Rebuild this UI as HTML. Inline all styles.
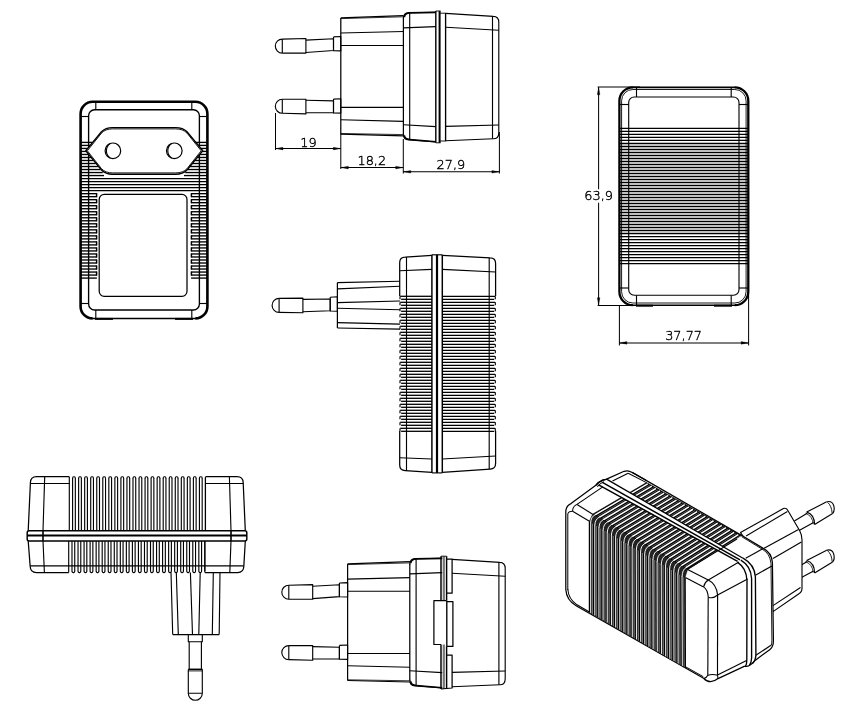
<!DOCTYPE html>
<html lang="en">
<head>
<meta charset="utf-8">
<title>Power adapter drawing</title>
<style>
html,body{margin:0;padding:0;background:#fff;}
body{width:858px;height:720px;overflow:hidden;font-family:"DejaVu Sans","Liberation Sans",sans-serif;}
svg{display:block;will-change:transform;}
.dim{font-family:"DejaVu Sans","Liberation Sans",sans-serif;font-weight:200;fill:#000;stroke:#000;stroke-width:0.4px;}
</style>
</head>
<body>
<svg width="858" height="720" viewBox="0 0 858 720" stroke-linecap="butt" stroke-linejoin="round">
<rect x="0" y="0" width="858" height="720" fill="#fff"/>
<g id="v1">
<line x1="80.6" y1="142.4" x2="92.33" y2="142.4" stroke="#000" stroke-width="1.35" />
<line x1="195.67" y1="142.4" x2="207.4" y2="142.4" stroke="#000" stroke-width="1.35" />
<line x1="80.6" y1="145.41" x2="89.99" y2="145.41" stroke="#000" stroke-width="1.35" />
<line x1="198.01" y1="145.41" x2="207.4" y2="145.41" stroke="#000" stroke-width="1.35" />
<line x1="80.6" y1="148.43" x2="87.64" y2="148.43" stroke="#000" stroke-width="1.35" />
<line x1="200.36" y1="148.43" x2="207.4" y2="148.43" stroke="#000" stroke-width="1.35" />
<line x1="80.6" y1="151.44" x2="86.3" y2="151.44" stroke="#000" stroke-width="1.35" />
<line x1="201.7" y1="151.44" x2="207.4" y2="151.44" stroke="#000" stroke-width="1.35" />
<line x1="80.6" y1="154.46" x2="88.65" y2="154.46" stroke="#000" stroke-width="1.35" />
<line x1="199.35" y1="154.46" x2="207.4" y2="154.46" stroke="#000" stroke-width="1.35" />
<line x1="80.6" y1="157.47" x2="90.99" y2="157.47" stroke="#000" stroke-width="1.35" />
<line x1="197.01" y1="157.47" x2="207.4" y2="157.47" stroke="#000" stroke-width="1.35" />
<line x1="80.6" y1="160.49" x2="93.34" y2="160.49" stroke="#000" stroke-width="1.35" />
<line x1="194.66" y1="160.49" x2="207.4" y2="160.49" stroke="#000" stroke-width="1.35" />
<line x1="80.6" y1="163.5" x2="95.68" y2="163.5" stroke="#000" stroke-width="1.35" />
<line x1="192.32" y1="163.5" x2="207.4" y2="163.5" stroke="#000" stroke-width="1.35" />
<line x1="80.6" y1="166.52" x2="98.03" y2="166.52" stroke="#000" stroke-width="1.35" />
<line x1="189.97" y1="166.52" x2="207.4" y2="166.52" stroke="#000" stroke-width="1.35" />
<line x1="80.6" y1="169.53" x2="100.37" y2="169.53" stroke="#000" stroke-width="1.35" />
<line x1="187.63" y1="169.53" x2="207.4" y2="169.53" stroke="#000" stroke-width="1.35" />
<line x1="80.6" y1="172.55" x2="102.72" y2="172.55" stroke="#000" stroke-width="1.35" />
<line x1="185.28" y1="172.55" x2="207.4" y2="172.55" stroke="#000" stroke-width="1.35" />
<line x1="80.6" y1="175.56" x2="104" y2="175.56" stroke="#000" stroke-width="1.35" />
<line x1="184" y1="175.56" x2="207.4" y2="175.56" stroke="#000" stroke-width="1.35" />
<line x1="80.6" y1="178.58" x2="207.4" y2="178.58" stroke="#000" stroke-width="1.35" />
<line x1="80.6" y1="181.59" x2="207.4" y2="181.59" stroke="#000" stroke-width="1.35" />
<line x1="80.6" y1="184.61" x2="207.4" y2="184.61" stroke="#000" stroke-width="1.35" />
<line x1="80.6" y1="187.62" x2="207.4" y2="187.62" stroke="#000" stroke-width="1.35" />
<line x1="80.6" y1="190.64" x2="207.4" y2="190.64" stroke="#000" stroke-width="1.35" />
<line x1="80.6" y1="193.66" x2="96.9" y2="193.66" stroke="#000" stroke-width="1.35" />
<line x1="191.1" y1="193.66" x2="207.4" y2="193.66" stroke="#000" stroke-width="1.35" />
<line x1="80.6" y1="196.67" x2="96.9" y2="196.67" stroke="#000" stroke-width="1.35" />
<line x1="191.1" y1="196.67" x2="207.4" y2="196.67" stroke="#000" stroke-width="1.35" />
<line x1="80.6" y1="199.69" x2="96.9" y2="199.69" stroke="#000" stroke-width="1.35" />
<line x1="191.1" y1="199.69" x2="207.4" y2="199.69" stroke="#000" stroke-width="1.35" />
<line x1="80.6" y1="202.7" x2="96.9" y2="202.7" stroke="#000" stroke-width="1.35" />
<line x1="191.1" y1="202.7" x2="207.4" y2="202.7" stroke="#000" stroke-width="1.35" />
<line x1="80.6" y1="205.72" x2="96.9" y2="205.72" stroke="#000" stroke-width="1.35" />
<line x1="191.1" y1="205.72" x2="207.4" y2="205.72" stroke="#000" stroke-width="1.35" />
<line x1="80.6" y1="208.73" x2="96.9" y2="208.73" stroke="#000" stroke-width="1.35" />
<line x1="191.1" y1="208.73" x2="207.4" y2="208.73" stroke="#000" stroke-width="1.35" />
<line x1="80.6" y1="211.75" x2="96.9" y2="211.75" stroke="#000" stroke-width="1.35" />
<line x1="191.1" y1="211.75" x2="207.4" y2="211.75" stroke="#000" stroke-width="1.35" />
<line x1="80.6" y1="214.76" x2="96.9" y2="214.76" stroke="#000" stroke-width="1.35" />
<line x1="191.1" y1="214.76" x2="207.4" y2="214.76" stroke="#000" stroke-width="1.35" />
<line x1="80.6" y1="217.78" x2="96.9" y2="217.78" stroke="#000" stroke-width="1.35" />
<line x1="191.1" y1="217.78" x2="207.4" y2="217.78" stroke="#000" stroke-width="1.35" />
<line x1="80.6" y1="220.79" x2="96.9" y2="220.79" stroke="#000" stroke-width="1.35" />
<line x1="191.1" y1="220.79" x2="207.4" y2="220.79" stroke="#000" stroke-width="1.35" />
<line x1="80.6" y1="223.81" x2="96.9" y2="223.81" stroke="#000" stroke-width="1.35" />
<line x1="191.1" y1="223.81" x2="207.4" y2="223.81" stroke="#000" stroke-width="1.35" />
<line x1="80.6" y1="226.82" x2="96.9" y2="226.82" stroke="#000" stroke-width="1.35" />
<line x1="191.1" y1="226.82" x2="207.4" y2="226.82" stroke="#000" stroke-width="1.35" />
<line x1="80.6" y1="229.84" x2="96.9" y2="229.84" stroke="#000" stroke-width="1.35" />
<line x1="191.1" y1="229.84" x2="207.4" y2="229.84" stroke="#000" stroke-width="1.35" />
<line x1="80.6" y1="232.85" x2="96.9" y2="232.85" stroke="#000" stroke-width="1.35" />
<line x1="191.1" y1="232.85" x2="207.4" y2="232.85" stroke="#000" stroke-width="1.35" />
<line x1="80.6" y1="235.87" x2="96.9" y2="235.87" stroke="#000" stroke-width="1.35" />
<line x1="191.1" y1="235.87" x2="207.4" y2="235.87" stroke="#000" stroke-width="1.35" />
<line x1="80.6" y1="238.88" x2="96.9" y2="238.88" stroke="#000" stroke-width="1.35" />
<line x1="191.1" y1="238.88" x2="207.4" y2="238.88" stroke="#000" stroke-width="1.35" />
<line x1="80.6" y1="241.9" x2="96.9" y2="241.9" stroke="#000" stroke-width="1.35" />
<line x1="191.1" y1="241.9" x2="207.4" y2="241.9" stroke="#000" stroke-width="1.35" />
<line x1="80.6" y1="244.91" x2="96.9" y2="244.91" stroke="#000" stroke-width="1.35" />
<line x1="191.1" y1="244.91" x2="207.4" y2="244.91" stroke="#000" stroke-width="1.35" />
<line x1="80.6" y1="247.93" x2="96.9" y2="247.93" stroke="#000" stroke-width="1.35" />
<line x1="191.1" y1="247.93" x2="207.4" y2="247.93" stroke="#000" stroke-width="1.35" />
<line x1="80.6" y1="250.94" x2="96.9" y2="250.94" stroke="#000" stroke-width="1.35" />
<line x1="191.1" y1="250.94" x2="207.4" y2="250.94" stroke="#000" stroke-width="1.35" />
<line x1="80.6" y1="253.96" x2="96.9" y2="253.96" stroke="#000" stroke-width="1.35" />
<line x1="191.1" y1="253.96" x2="207.4" y2="253.96" stroke="#000" stroke-width="1.35" />
<line x1="80.6" y1="256.97" x2="96.9" y2="256.97" stroke="#000" stroke-width="1.35" />
<line x1="191.1" y1="256.97" x2="207.4" y2="256.97" stroke="#000" stroke-width="1.35" />
<line x1="80.6" y1="259.99" x2="96.9" y2="259.99" stroke="#000" stroke-width="1.35" />
<line x1="191.1" y1="259.99" x2="207.4" y2="259.99" stroke="#000" stroke-width="1.35" />
<line x1="80.6" y1="263" x2="96.9" y2="263" stroke="#000" stroke-width="1.35" />
<line x1="191.1" y1="263" x2="207.4" y2="263" stroke="#000" stroke-width="1.35" />
<line x1="80.6" y1="266.01" x2="96.9" y2="266.01" stroke="#000" stroke-width="1.35" />
<line x1="191.1" y1="266.01" x2="207.4" y2="266.01" stroke="#000" stroke-width="1.35" />
<line x1="80.6" y1="269.03" x2="96.9" y2="269.03" stroke="#000" stroke-width="1.35" />
<line x1="191.1" y1="269.03" x2="207.4" y2="269.03" stroke="#000" stroke-width="1.35" />
<line x1="80.6" y1="272.05" x2="96.9" y2="272.05" stroke="#000" stroke-width="1.35" />
<line x1="191.1" y1="272.05" x2="207.4" y2="272.05" stroke="#000" stroke-width="1.35" />
<line x1="80.6" y1="275.06" x2="96.9" y2="275.06" stroke="#000" stroke-width="1.35" />
<line x1="191.1" y1="275.06" x2="207.4" y2="275.06" stroke="#000" stroke-width="1.35" />
<line x1="80.6" y1="278.08" x2="96.9" y2="278.08" stroke="#000" stroke-width="1.35" />
<line x1="191.1" y1="278.08" x2="207.4" y2="278.08" stroke="#000" stroke-width="1.35" />
<line x1="96.6" y1="193.16" x2="96.6" y2="197.17" stroke="#000" stroke-width="1.469" />
<line x1="191.4" y1="193.16" x2="191.4" y2="197.17" stroke="#000" stroke-width="1.469" />
<line x1="96.6" y1="199.19" x2="96.6" y2="203.2" stroke="#000" stroke-width="1.469" />
<line x1="191.4" y1="199.19" x2="191.4" y2="203.2" stroke="#000" stroke-width="1.469" />
<line x1="96.6" y1="205.22" x2="96.6" y2="209.23" stroke="#000" stroke-width="1.469" />
<line x1="191.4" y1="205.22" x2="191.4" y2="209.23" stroke="#000" stroke-width="1.469" />
<line x1="96.6" y1="211.25" x2="96.6" y2="215.26" stroke="#000" stroke-width="1.469" />
<line x1="191.4" y1="211.25" x2="191.4" y2="215.26" stroke="#000" stroke-width="1.469" />
<line x1="96.6" y1="217.28" x2="96.6" y2="221.29" stroke="#000" stroke-width="1.469" />
<line x1="191.4" y1="217.28" x2="191.4" y2="221.29" stroke="#000" stroke-width="1.469" />
<line x1="96.6" y1="223.31" x2="96.6" y2="227.32" stroke="#000" stroke-width="1.469" />
<line x1="191.4" y1="223.31" x2="191.4" y2="227.32" stroke="#000" stroke-width="1.469" />
<line x1="96.6" y1="229.34" x2="96.6" y2="233.35" stroke="#000" stroke-width="1.469" />
<line x1="191.4" y1="229.34" x2="191.4" y2="233.35" stroke="#000" stroke-width="1.469" />
<line x1="96.6" y1="235.37" x2="96.6" y2="239.38" stroke="#000" stroke-width="1.469" />
<line x1="191.4" y1="235.37" x2="191.4" y2="239.38" stroke="#000" stroke-width="1.469" />
<line x1="96.6" y1="241.4" x2="96.6" y2="245.41" stroke="#000" stroke-width="1.469" />
<line x1="191.4" y1="241.4" x2="191.4" y2="245.41" stroke="#000" stroke-width="1.469" />
<line x1="96.6" y1="247.43" x2="96.6" y2="251.44" stroke="#000" stroke-width="1.469" />
<line x1="191.4" y1="247.43" x2="191.4" y2="251.44" stroke="#000" stroke-width="1.469" />
<line x1="96.6" y1="253.46" x2="96.6" y2="257.47" stroke="#000" stroke-width="1.469" />
<line x1="191.4" y1="253.46" x2="191.4" y2="257.47" stroke="#000" stroke-width="1.469" />
<line x1="96.6" y1="259.49" x2="96.6" y2="263.5" stroke="#000" stroke-width="1.469" />
<line x1="191.4" y1="259.49" x2="191.4" y2="263.5" stroke="#000" stroke-width="1.469" />
<line x1="96.6" y1="265.51" x2="96.6" y2="269.53" stroke="#000" stroke-width="1.469" />
<line x1="191.4" y1="265.51" x2="191.4" y2="269.53" stroke="#000" stroke-width="1.469" />
<line x1="96.6" y1="271.55" x2="96.6" y2="275.56" stroke="#000" stroke-width="1.469" />
<line x1="191.4" y1="271.55" x2="191.4" y2="275.56" stroke="#000" stroke-width="1.469" />
<path d="M92.6 318.4 A12 12 0 0 1 80.6 306.4 L80.6 113.8 A12 12 0 0 1 92.6 101.8 L195.4 101.8 A12 12 0 0 1 207.4 113.8 L207.4 306.4 A12 12 0 0 1 195.4 318.4" stroke="#000" stroke-width="2.6" fill="none" />
<line x1="92.1" y1="318.4" x2="195.9" y2="318.4" stroke="#000" stroke-width="1.5" />
<rect x="88.6" y="109.8" width="110.8" height="200.2" rx="6" ry="6" stroke="#000" stroke-width="1.356" fill="none"/>
<line x1="95.8" y1="101.8" x2="95.8" y2="109.8" stroke="#000" stroke-width="1.13" />
<line x1="95.8" y1="310" x2="95.8" y2="318.4" stroke="#000" stroke-width="1.13" />
<line x1="191.8" y1="101.8" x2="191.8" y2="109.8" stroke="#000" stroke-width="1.13" />
<line x1="191.8" y1="310" x2="191.8" y2="318.4" stroke="#000" stroke-width="1.13" />
<line x1="80.6" y1="116.5" x2="88.6" y2="116.5" stroke="#000" stroke-width="1.13" />
<line x1="199.4" y1="116.5" x2="207.4" y2="116.5" stroke="#000" stroke-width="1.13" />
<line x1="80.6" y1="303.5" x2="88.6" y2="303.5" stroke="#000" stroke-width="1.13" />
<line x1="199.4" y1="303.5" x2="207.4" y2="303.5" stroke="#000" stroke-width="1.13" />
<line x1="95" y1="318.9" x2="113" y2="318.9" stroke="#000" stroke-width="2.0" />
<line x1="175" y1="318.9" x2="193" y2="318.9" stroke="#000" stroke-width="2.0" />
<rect x="99.2" y="194.4" width="87.8" height="101.9" rx="5" ry="5" stroke="#000" stroke-width="1.243" fill="#fff"/>
<path d="M85.8 150.8 L101.5 131.8 Q105.5 127.6 112.5 127.6 L175.5 127.6 Q183 127.6 187 131.8 L202.7 150.8 L187 170 Q183 174.2 175.5 174.2 L112.5 174.2 Q105.5 174.2 101.5 170 Z" stroke="#000" stroke-width="1.356" fill="#fff" />
<path d="M87.36 150.8 L101.5 133.1 Q105.5 128.9 112.5 128.9 L175.5 128.9 Q183 128.9 187 133.1 L201.14 150.8 L187 168.7 Q183 172.9 175.5 172.9 L112.5 172.9 Q105.5 172.9 101.5 168.7 Z" stroke="#000" stroke-width="0.904" fill="none" />
<circle cx="112.9" cy="150.8" r="7.8" fill="#fff" stroke="#000" stroke-width="1.2"/>
<path d="M110.3 143.6 A8.6 8.6 0 0 0 110.3 158" fill="none" stroke="#000" stroke-width="1.1"/>
<circle cx="174.3" cy="150.8" r="7.8" fill="#fff" stroke="#000" stroke-width="1.2"/>
<path d="M171.7 143.6 A8.6 8.6 0 0 0 171.7 158" fill="none" stroke="#000" stroke-width="1.1"/>
</g>
<g id="v3">
<line x1="619.4" y1="128.4" x2="748.3" y2="128.4" stroke="#000" stroke-width="1.4" />
<line x1="619.4" y1="131.41" x2="748.3" y2="131.41" stroke="#000" stroke-width="1.4" />
<line x1="619.4" y1="134.41" x2="748.3" y2="134.41" stroke="#000" stroke-width="1.4" />
<line x1="619.4" y1="137.42" x2="748.3" y2="137.42" stroke="#000" stroke-width="1.4" />
<line x1="619.4" y1="140.42" x2="748.3" y2="140.42" stroke="#000" stroke-width="1.4" />
<line x1="619.4" y1="143.43" x2="748.3" y2="143.43" stroke="#000" stroke-width="1.4" />
<line x1="619.4" y1="146.43" x2="748.3" y2="146.43" stroke="#000" stroke-width="1.4" />
<line x1="619.4" y1="149.44" x2="748.3" y2="149.44" stroke="#000" stroke-width="1.4" />
<line x1="619.4" y1="152.44" x2="748.3" y2="152.44" stroke="#000" stroke-width="1.4" />
<line x1="619.4" y1="155.44" x2="748.3" y2="155.44" stroke="#000" stroke-width="1.4" />
<line x1="619.4" y1="158.45" x2="748.3" y2="158.45" stroke="#000" stroke-width="1.4" />
<line x1="619.4" y1="161.46" x2="748.3" y2="161.46" stroke="#000" stroke-width="1.4" />
<line x1="619.4" y1="164.46" x2="748.3" y2="164.46" stroke="#000" stroke-width="1.4" />
<line x1="619.4" y1="167.47" x2="748.3" y2="167.47" stroke="#000" stroke-width="1.4" />
<line x1="619.4" y1="170.47" x2="748.3" y2="170.47" stroke="#000" stroke-width="1.4" />
<line x1="619.4" y1="173.47" x2="748.3" y2="173.47" stroke="#000" stroke-width="1.4" />
<line x1="619.4" y1="176.48" x2="748.3" y2="176.48" stroke="#000" stroke-width="1.4" />
<line x1="619.4" y1="179.49" x2="748.3" y2="179.49" stroke="#000" stroke-width="1.4" />
<line x1="619.4" y1="182.49" x2="748.3" y2="182.49" stroke="#000" stroke-width="1.4" />
<line x1="619.4" y1="185.5" x2="748.3" y2="185.5" stroke="#000" stroke-width="1.4" />
<line x1="619.4" y1="188.5" x2="748.3" y2="188.5" stroke="#000" stroke-width="1.4" />
<line x1="619.4" y1="191.5" x2="748.3" y2="191.5" stroke="#000" stroke-width="1.4" />
<line x1="619.4" y1="194.51" x2="748.3" y2="194.51" stroke="#000" stroke-width="1.4" />
<line x1="619.4" y1="197.51" x2="748.3" y2="197.51" stroke="#000" stroke-width="1.4" />
<line x1="619.4" y1="200.52" x2="748.3" y2="200.52" stroke="#000" stroke-width="1.4" />
<line x1="619.4" y1="203.53" x2="748.3" y2="203.53" stroke="#000" stroke-width="1.4" />
<line x1="619.4" y1="206.53" x2="748.3" y2="206.53" stroke="#000" stroke-width="1.4" />
<line x1="619.4" y1="209.53" x2="748.3" y2="209.53" stroke="#000" stroke-width="1.4" />
<line x1="619.4" y1="212.54" x2="748.3" y2="212.54" stroke="#000" stroke-width="1.4" />
<line x1="619.4" y1="215.55" x2="748.3" y2="215.55" stroke="#000" stroke-width="1.4" />
<line x1="619.4" y1="218.55" x2="748.3" y2="218.55" stroke="#000" stroke-width="1.4" />
<line x1="619.4" y1="221.56" x2="748.3" y2="221.56" stroke="#000" stroke-width="1.4" />
<line x1="619.4" y1="224.56" x2="748.3" y2="224.56" stroke="#000" stroke-width="1.4" />
<line x1="619.4" y1="227.56" x2="748.3" y2="227.56" stroke="#000" stroke-width="1.4" />
<line x1="619.4" y1="230.57" x2="748.3" y2="230.57" stroke="#000" stroke-width="1.4" />
<line x1="619.4" y1="233.57" x2="748.3" y2="233.57" stroke="#000" stroke-width="1.4" />
<line x1="619.4" y1="236.58" x2="748.3" y2="236.58" stroke="#000" stroke-width="1.4" />
<line x1="619.4" y1="239.59" x2="748.3" y2="239.59" stroke="#000" stroke-width="1.4" />
<line x1="619.4" y1="242.59" x2="748.3" y2="242.59" stroke="#000" stroke-width="1.4" />
<line x1="619.4" y1="245.59" x2="748.3" y2="245.59" stroke="#000" stroke-width="1.4" />
<line x1="619.4" y1="248.6" x2="748.3" y2="248.6" stroke="#000" stroke-width="1.4" />
<line x1="619.4" y1="251.61" x2="748.3" y2="251.61" stroke="#000" stroke-width="1.4" />
<line x1="619.4" y1="254.61" x2="748.3" y2="254.61" stroke="#000" stroke-width="1.4" />
<line x1="619.4" y1="257.62" x2="748.3" y2="257.62" stroke="#000" stroke-width="1.4" />
<line x1="619.4" y1="260.62" x2="748.3" y2="260.62" stroke="#000" stroke-width="1.4" />
<line x1="619.4" y1="263.62" x2="748.3" y2="263.62" stroke="#000" stroke-width="1.4" />
<path d="M632.9 87.3 A13.5 13.5 0 0 0 619.4 100.8 L619.4 291.7 A13.5 13.5 0 0 0 632.9 305.2" stroke="#000" stroke-width="2.3" fill="none" />
<path d="M734.8 87.3 A13.5 13.5 0 0 1 748.3 100.8 L748.3 291.7 A13.5 13.5 0 0 1 734.8 305.2" stroke="#000" stroke-width="2.3" fill="none" />
<line x1="632.4" y1="87.3" x2="735.3" y2="87.3" stroke="#000" stroke-width="1.8" />
<line x1="632.4" y1="305.2" x2="735.3" y2="305.2" stroke="#000" stroke-width="1.4" />
<rect x="621.6" y="89.5" width="124.5" height="213.5" rx="11.3" ry="11.3" stroke="#000" stroke-width="0.904" fill="none"/>
<rect x="628.7" y="97" width="110.3" height="198.3" rx="5.5" ry="5.5" stroke="#000" stroke-width="1.13" fill="none"/>
<line x1="636.5" y1="87.3" x2="636.5" y2="97" stroke="#000" stroke-width="1.13" />
<line x1="636.5" y1="295.3" x2="636.5" y2="305.2" stroke="#000" stroke-width="1.13" />
<line x1="731.2" y1="87.3" x2="731.2" y2="97" stroke="#000" stroke-width="1.13" />
<line x1="731.2" y1="295.3" x2="731.2" y2="305.2" stroke="#000" stroke-width="1.13" />
<line x1="619.4" y1="104.5" x2="628.7" y2="104.5" stroke="#000" stroke-width="1.13" />
<line x1="739" y1="104.5" x2="748.3" y2="104.5" stroke="#000" stroke-width="1.13" />
<line x1="619.4" y1="288" x2="628.7" y2="288" stroke="#000" stroke-width="1.13" />
<line x1="739" y1="288" x2="748.3" y2="288" stroke="#000" stroke-width="1.13" />
<line x1="636" y1="305.7" x2="653" y2="305.7" stroke="#000" stroke-width="2.0" />
<line x1="714" y1="305.7" x2="732" y2="305.7" stroke="#000" stroke-width="2.0" />
<line x1="597.6" y1="87" x2="640" y2="87" stroke="#000" stroke-width="1.017" />
<line x1="597.6" y1="305.5" x2="652" y2="305.5" stroke="#000" stroke-width="1.017" />
<line x1="598.6" y1="87.3" x2="598.6" y2="189.2" stroke="#000" stroke-width="1.017" />
<line x1="598.6" y1="202.8" x2="598.6" y2="305.2" stroke="#000" stroke-width="1.017" />
<path d="M598.6 87.3 L599.9 94.8 L597.3 94.8 Z" stroke="#000" stroke-width="0.3" fill="#000" />
<path d="M598.6 305.2 L597.3 297.7 L599.9 297.7 Z" stroke="#000" stroke-width="0.3" fill="#000" />
<text x="598.7" y="200.3" text-anchor="middle" font-size="12.9" class="dim">63,9</text>
<line x1="619.4" y1="305.2" x2="619.4" y2="345.5" stroke="#000" stroke-width="1.017" />
<line x1="748.6" y1="295.2" x2="748.6" y2="345.5" stroke="#000" stroke-width="1.017" />
<line x1="619.4" y1="342.9" x2="748.6" y2="342.9" stroke="#000" stroke-width="1.017" />
<path d="M619.4 342.9 L626.9 341.6 L626.9 344.2 Z" stroke="#000" stroke-width="0.3" fill="#000" />
<path d="M748.6 342.9 L741.1 344.2 L741.1 341.6 Z" stroke="#000" stroke-width="0.3" fill="#000" />
<text x="683.6" y="339.7" text-anchor="middle" font-size="12.9" class="dim">37,77</text>
</g>
<g id="v2">
<path d="M282.3 39.1 A7 7 0 0 0 282.3 53.1" stroke="#000" stroke-width="1.13" fill="none" />
<line x1="282.3" y1="39.1" x2="282.3" y2="53.1" stroke="#000" stroke-width="1.13" />
<path d="M282.3 39.1 L305.9 38.5 L305.9 53.1 L282.3 53.1" stroke="#000" stroke-width="1.13" fill="none" />
<path d="M305.9 40.1 L333.5 38.7 L333.5 50.5 L305.9 52.5" stroke="#000" stroke-width="1.13" fill="none" />
<path d="M333.5 36.9 L340.8 36.5 L340.8 50.9 L333.5 50.7 L333.5 36.9" stroke="#000" stroke-width="1.13" fill="none" />
<path d="M282.3 99.3 A7 7 0 0 0 282.3 113.3" stroke="#000" stroke-width="1.13" fill="none" />
<line x1="282.3" y1="99.3" x2="282.3" y2="113.3" stroke="#000" stroke-width="1.13" />
<path d="M282.3 99.3 L305.9 99.3 L305.9 113.9 L282.3 113.3" stroke="#000" stroke-width="1.13" fill="none" />
<path d="M305.9 100.3 L333.5 100.9 L333.5 112.7 L305.9 112.7" stroke="#000" stroke-width="1.13" fill="none" />
<path d="M333.5 99.1 L340.8 98.7 L340.8 113.1 L333.5 112.9 L333.5 99.1" stroke="#000" stroke-width="1.13" fill="none" />
<line x1="340.8" y1="17.9" x2="340.8" y2="134.2" stroke="#000" stroke-width="1.243" />
<line x1="340.8" y1="17.9" x2="403.4" y2="15.6" stroke="#000" stroke-width="1.243" />
<line x1="340.8" y1="18.6" x2="403.4" y2="16.8" stroke="#000" stroke-width="0.791" />
<line x1="340.8" y1="33" x2="403.4" y2="31.5" stroke="#000" stroke-width="1.13" />
<line x1="340.8" y1="45.5" x2="403.4" y2="45.5" stroke="#000" stroke-width="1.13" />
<line x1="340.8" y1="107.4" x2="403.4" y2="107.4" stroke="#000" stroke-width="1.13" />
<line x1="340.8" y1="119.8" x2="403.4" y2="121.4" stroke="#000" stroke-width="1.13" />
<line x1="340.8" y1="134.2" x2="403.4" y2="135.8" stroke="#000" stroke-width="1.243" />
<line x1="340.8" y1="133.5" x2="403.4" y2="134.6" stroke="#000" stroke-width="0.791" />
<path d="M403.4 18.7 Q403.4 12.6 408.9 12.6 L435.8 12.2" stroke="#000" stroke-width="1.243" fill="none" />
<path d="M403.4 133.8 Q403.4 139.9 408.9 139.9 L435.8 142" stroke="#000" stroke-width="1.243" fill="none" />
<line x1="403.4" y1="18.1" x2="403.4" y2="134.4" stroke="#000" stroke-width="1.243" />
<path d="M404.4 17.1 Q404.6 13.1 409.9 13 L435.8 12.5" stroke="#000" stroke-width="1.6" fill="none" />
<path d="M404.4 135.4 Q404.6 139.4 409.9 139.5 L435.8 141.7" stroke="#000" stroke-width="1.6" fill="none" />
<path d="M445.6 13.4 L493.3 16.4 Q498.8 16.4 498.8 22.5 L498.8 132.7 Q498.8 138.8 493.3 138.8 L445.6 140.8" stroke="#000" stroke-width="1.13" fill="none" />
<line x1="409.7" y1="12.6" x2="409.7" y2="139.9" stroke="#000" stroke-width="1.13" />
<line x1="492.5" y1="16.4" x2="492.5" y2="138.8" stroke="#000" stroke-width="1.13" />
<path d="M403.4 27.9 L435.8 26.6" stroke="#000" stroke-width="1.13" fill="none" />
<path d="M445.6 27.2 L498.8 30.2" stroke="#000" stroke-width="1.13" fill="none" />
<path d="M403.4 124.7 L435.8 126.6" stroke="#000" stroke-width="1.13" fill="none" />
<path d="M445.6 126.4 L498.8 125" stroke="#000" stroke-width="1.13" fill="none" />
<line x1="435.8" y1="11" x2="435.8" y2="142.8" stroke="#000" stroke-width="1.4" />
<line x1="439.6" y1="11" x2="439.6" y2="142.8" stroke="#000" stroke-width="2.0" />
<line x1="445.6" y1="13" x2="445.6" y2="141.2" stroke="#000" stroke-width="1.356" />
<line x1="435.8" y1="11" x2="440.6" y2="11" stroke="#000" stroke-width="0.904" />
<line x1="435.8" y1="142.8" x2="440.6" y2="142.8" stroke="#000" stroke-width="0.904" />
<line x1="439.6" y1="13.2" x2="445.6" y2="13.2" stroke="#000" stroke-width="0.904" />
<line x1="439.6" y1="141" x2="445.6" y2="141" stroke="#000" stroke-width="0.904" />
<line x1="275.5" y1="113" x2="275.5" y2="150" stroke="#000" stroke-width="1.017" />
<line x1="340.8" y1="134" x2="340.8" y2="169" stroke="#000" stroke-width="1.017" />
<line x1="275.5" y1="148.6" x2="340.8" y2="148.6" stroke="#000" stroke-width="1.017" />
<path d="M275.5 148.6 L283 147.3 L283 149.9 Z" stroke="#000" stroke-width="0.3" fill="#000" />
<path d="M340.8 148.6 L333.3 149.9 L333.3 147.3 Z" stroke="#000" stroke-width="0.3" fill="#000" />
<text x="308.5" y="147.3" text-anchor="middle" font-size="12.9" class="dim">19</text>
<line x1="340.8" y1="167.6" x2="403.2" y2="167.6" stroke="#000" stroke-width="1.017" />
<path d="M340.8 167.6 L348.3 166.3 L348.3 168.9 Z" stroke="#000" stroke-width="0.3" fill="#000" />
<path d="M403.2 167.6 L395.7 168.9 L395.7 166.3 Z" stroke="#000" stroke-width="0.3" fill="#000" />
<text x="371.8" y="164.6" text-anchor="middle" font-size="12.9" class="dim">18,2</text>
<line x1="403.3" y1="139" x2="403.3" y2="173.5" stroke="#000" stroke-width="1.017" />
<line x1="499.4" y1="132" x2="499.4" y2="173.5" stroke="#000" stroke-width="1.017" />
<line x1="403.3" y1="171.8" x2="499.4" y2="171.8" stroke="#000" stroke-width="1.017" />
<path d="M403.3 171.8 L410.8 170.5 L410.8 173.1 Z" stroke="#000" stroke-width="0.3" fill="#000" />
<path d="M499.4 171.8 L491.9 173.1 L491.9 170.5 Z" stroke="#000" stroke-width="0.3" fill="#000" />
<text x="450.9" y="168.9" text-anchor="middle" font-size="12.9" class="dim">27,9</text>
</g>
<g id="v4">
<path d="M279.1 298.4 A7 7 0 0 0 279.1 312.4" stroke="#000" stroke-width="1.13" fill="none" />
<line x1="279.1" y1="298.4" x2="279.1" y2="312.4" stroke="#000" stroke-width="1.13" />
<path d="M279.1 298.4 L302.9 298.1 L302.9 312.7 L279.1 312.4" stroke="#000" stroke-width="1.13" fill="none" />
<path d="M302.9 299.4 L330.2 299 L330.2 310.8 L302.9 311.8" stroke="#000" stroke-width="1.13" fill="none" />
<path d="M330.2 297.2 L337.4 296.8 L337.4 311.2 L330.2 311 L330.2 297.2" stroke="#000" stroke-width="1.13" fill="none" />
<line x1="337.4" y1="282.6" x2="337.4" y2="328" stroke="#000" stroke-width="1.243" />
<line x1="337.4" y1="282.6" x2="400" y2="281.3" stroke="#000" stroke-width="1.13" />
<line x1="337.4" y1="288.9" x2="400" y2="286.2" stroke="#000" stroke-width="1.13" />
<line x1="337.4" y1="302.6" x2="400" y2="301" stroke="#000" stroke-width="1.13" />
<line x1="337.4" y1="308.3" x2="400" y2="309.8" stroke="#000" stroke-width="1.13" />
<line x1="337.4" y1="322.6" x2="400" y2="324.1" stroke="#000" stroke-width="1.13" />
<line x1="337.4" y1="328" x2="400" y2="329.1" stroke="#000" stroke-width="1.13" />
<line x1="400.2" y1="296.3" x2="431.9" y2="296.3" stroke="#000" stroke-width="1.299" />
<line x1="442.3" y1="296.3" x2="495.1" y2="296.3" stroke="#000" stroke-width="1.299" />
<line x1="401.1" y1="299.3" x2="431.9" y2="299.3" stroke="#000" stroke-width="1.299" />
<line x1="442.3" y1="299.3" x2="494.2" y2="299.3" stroke="#000" stroke-width="1.299" />
<line x1="400.2" y1="302.3" x2="431.9" y2="302.3" stroke="#000" stroke-width="1.299" />
<line x1="442.3" y1="302.3" x2="495.1" y2="302.3" stroke="#000" stroke-width="1.299" />
<line x1="401.1" y1="305.3" x2="431.9" y2="305.3" stroke="#000" stroke-width="1.299" />
<line x1="442.3" y1="305.3" x2="494.2" y2="305.3" stroke="#000" stroke-width="1.299" />
<line x1="400.2" y1="308.3" x2="431.9" y2="308.3" stroke="#000" stroke-width="1.299" />
<line x1="442.3" y1="308.3" x2="495.1" y2="308.3" stroke="#000" stroke-width="1.299" />
<line x1="401.1" y1="311.3" x2="431.9" y2="311.3" stroke="#000" stroke-width="1.299" />
<line x1="442.3" y1="311.3" x2="494.2" y2="311.3" stroke="#000" stroke-width="1.299" />
<line x1="400.2" y1="314.3" x2="431.9" y2="314.3" stroke="#000" stroke-width="1.299" />
<line x1="442.3" y1="314.3" x2="495.1" y2="314.3" stroke="#000" stroke-width="1.299" />
<line x1="401.1" y1="317.3" x2="431.9" y2="317.3" stroke="#000" stroke-width="1.299" />
<line x1="442.3" y1="317.3" x2="494.2" y2="317.3" stroke="#000" stroke-width="1.299" />
<line x1="400.2" y1="320.3" x2="431.9" y2="320.3" stroke="#000" stroke-width="1.299" />
<line x1="442.3" y1="320.3" x2="495.1" y2="320.3" stroke="#000" stroke-width="1.299" />
<line x1="401.1" y1="323.3" x2="431.9" y2="323.3" stroke="#000" stroke-width="1.299" />
<line x1="442.3" y1="323.3" x2="494.2" y2="323.3" stroke="#000" stroke-width="1.299" />
<line x1="400.2" y1="326.3" x2="431.9" y2="326.3" stroke="#000" stroke-width="1.299" />
<line x1="442.3" y1="326.3" x2="495.1" y2="326.3" stroke="#000" stroke-width="1.299" />
<line x1="401.1" y1="329.3" x2="431.9" y2="329.3" stroke="#000" stroke-width="1.299" />
<line x1="442.3" y1="329.3" x2="494.2" y2="329.3" stroke="#000" stroke-width="1.299" />
<line x1="400.2" y1="332.3" x2="431.9" y2="332.3" stroke="#000" stroke-width="1.299" />
<line x1="442.3" y1="332.3" x2="495.1" y2="332.3" stroke="#000" stroke-width="1.299" />
<line x1="401.1" y1="335.3" x2="431.9" y2="335.3" stroke="#000" stroke-width="1.299" />
<line x1="442.3" y1="335.3" x2="494.2" y2="335.3" stroke="#000" stroke-width="1.299" />
<line x1="400.2" y1="338.3" x2="431.9" y2="338.3" stroke="#000" stroke-width="1.299" />
<line x1="442.3" y1="338.3" x2="495.1" y2="338.3" stroke="#000" stroke-width="1.299" />
<line x1="401.1" y1="341.3" x2="431.9" y2="341.3" stroke="#000" stroke-width="1.299" />
<line x1="442.3" y1="341.3" x2="494.2" y2="341.3" stroke="#000" stroke-width="1.299" />
<line x1="400.2" y1="344.3" x2="431.9" y2="344.3" stroke="#000" stroke-width="1.299" />
<line x1="442.3" y1="344.3" x2="495.1" y2="344.3" stroke="#000" stroke-width="1.299" />
<line x1="401.1" y1="347.3" x2="431.9" y2="347.3" stroke="#000" stroke-width="1.299" />
<line x1="442.3" y1="347.3" x2="494.2" y2="347.3" stroke="#000" stroke-width="1.299" />
<line x1="400.2" y1="350.3" x2="431.9" y2="350.3" stroke="#000" stroke-width="1.299" />
<line x1="442.3" y1="350.3" x2="495.1" y2="350.3" stroke="#000" stroke-width="1.299" />
<line x1="401.1" y1="353.3" x2="431.9" y2="353.3" stroke="#000" stroke-width="1.299" />
<line x1="442.3" y1="353.3" x2="494.2" y2="353.3" stroke="#000" stroke-width="1.299" />
<line x1="400.2" y1="356.3" x2="431.9" y2="356.3" stroke="#000" stroke-width="1.299" />
<line x1="442.3" y1="356.3" x2="495.1" y2="356.3" stroke="#000" stroke-width="1.299" />
<line x1="401.1" y1="359.3" x2="431.9" y2="359.3" stroke="#000" stroke-width="1.299" />
<line x1="442.3" y1="359.3" x2="494.2" y2="359.3" stroke="#000" stroke-width="1.299" />
<line x1="400.2" y1="362.3" x2="431.9" y2="362.3" stroke="#000" stroke-width="1.299" />
<line x1="442.3" y1="362.3" x2="495.1" y2="362.3" stroke="#000" stroke-width="1.299" />
<line x1="401.1" y1="365.3" x2="431.9" y2="365.3" stroke="#000" stroke-width="1.299" />
<line x1="442.3" y1="365.3" x2="494.2" y2="365.3" stroke="#000" stroke-width="1.299" />
<line x1="400.2" y1="368.3" x2="431.9" y2="368.3" stroke="#000" stroke-width="1.299" />
<line x1="442.3" y1="368.3" x2="495.1" y2="368.3" stroke="#000" stroke-width="1.299" />
<line x1="401.1" y1="371.3" x2="431.9" y2="371.3" stroke="#000" stroke-width="1.299" />
<line x1="442.3" y1="371.3" x2="494.2" y2="371.3" stroke="#000" stroke-width="1.299" />
<line x1="400.2" y1="374.3" x2="431.9" y2="374.3" stroke="#000" stroke-width="1.299" />
<line x1="442.3" y1="374.3" x2="495.1" y2="374.3" stroke="#000" stroke-width="1.299" />
<line x1="401.1" y1="377.3" x2="431.9" y2="377.3" stroke="#000" stroke-width="1.299" />
<line x1="442.3" y1="377.3" x2="494.2" y2="377.3" stroke="#000" stroke-width="1.299" />
<line x1="400.2" y1="380.3" x2="431.9" y2="380.3" stroke="#000" stroke-width="1.299" />
<line x1="442.3" y1="380.3" x2="495.1" y2="380.3" stroke="#000" stroke-width="1.299" />
<line x1="401.1" y1="383.3" x2="431.9" y2="383.3" stroke="#000" stroke-width="1.299" />
<line x1="442.3" y1="383.3" x2="494.2" y2="383.3" stroke="#000" stroke-width="1.299" />
<line x1="400.2" y1="386.3" x2="431.9" y2="386.3" stroke="#000" stroke-width="1.299" />
<line x1="442.3" y1="386.3" x2="495.1" y2="386.3" stroke="#000" stroke-width="1.299" />
<line x1="401.1" y1="389.3" x2="431.9" y2="389.3" stroke="#000" stroke-width="1.299" />
<line x1="442.3" y1="389.3" x2="494.2" y2="389.3" stroke="#000" stroke-width="1.299" />
<line x1="400.2" y1="392.3" x2="431.9" y2="392.3" stroke="#000" stroke-width="1.299" />
<line x1="442.3" y1="392.3" x2="495.1" y2="392.3" stroke="#000" stroke-width="1.299" />
<line x1="401.1" y1="395.3" x2="431.9" y2="395.3" stroke="#000" stroke-width="1.299" />
<line x1="442.3" y1="395.3" x2="494.2" y2="395.3" stroke="#000" stroke-width="1.299" />
<line x1="400.2" y1="398.3" x2="431.9" y2="398.3" stroke="#000" stroke-width="1.299" />
<line x1="442.3" y1="398.3" x2="495.1" y2="398.3" stroke="#000" stroke-width="1.299" />
<line x1="401.1" y1="401.3" x2="431.9" y2="401.3" stroke="#000" stroke-width="1.299" />
<line x1="442.3" y1="401.3" x2="494.2" y2="401.3" stroke="#000" stroke-width="1.299" />
<line x1="400.2" y1="404.3" x2="431.9" y2="404.3" stroke="#000" stroke-width="1.299" />
<line x1="442.3" y1="404.3" x2="495.1" y2="404.3" stroke="#000" stroke-width="1.299" />
<line x1="401.1" y1="407.3" x2="431.9" y2="407.3" stroke="#000" stroke-width="1.299" />
<line x1="442.3" y1="407.3" x2="494.2" y2="407.3" stroke="#000" stroke-width="1.299" />
<line x1="400.2" y1="410.3" x2="431.9" y2="410.3" stroke="#000" stroke-width="1.299" />
<line x1="442.3" y1="410.3" x2="495.1" y2="410.3" stroke="#000" stroke-width="1.299" />
<line x1="401.1" y1="413.3" x2="431.9" y2="413.3" stroke="#000" stroke-width="1.299" />
<line x1="442.3" y1="413.3" x2="494.2" y2="413.3" stroke="#000" stroke-width="1.299" />
<line x1="400.2" y1="416.3" x2="431.9" y2="416.3" stroke="#000" stroke-width="1.299" />
<line x1="442.3" y1="416.3" x2="495.1" y2="416.3" stroke="#000" stroke-width="1.299" />
<line x1="401.1" y1="419.3" x2="431.9" y2="419.3" stroke="#000" stroke-width="1.299" />
<line x1="442.3" y1="419.3" x2="494.2" y2="419.3" stroke="#000" stroke-width="1.299" />
<line x1="400.2" y1="422.3" x2="431.9" y2="422.3" stroke="#000" stroke-width="1.299" />
<line x1="442.3" y1="422.3" x2="495.1" y2="422.3" stroke="#000" stroke-width="1.299" />
<line x1="401.1" y1="425.3" x2="431.9" y2="425.3" stroke="#000" stroke-width="1.299" />
<line x1="442.3" y1="425.3" x2="494.2" y2="425.3" stroke="#000" stroke-width="1.299" />
<line x1="400.2" y1="428.3" x2="431.9" y2="428.3" stroke="#000" stroke-width="1.299" />
<line x1="442.3" y1="428.3" x2="495.1" y2="428.3" stroke="#000" stroke-width="1.299" />
<line x1="401.1" y1="431.3" x2="431.9" y2="431.3" stroke="#000" stroke-width="1.299" />
<line x1="442.3" y1="431.3" x2="494.2" y2="431.3" stroke="#000" stroke-width="1.299" />
<line x1="400" y1="296.3" x2="400" y2="299.3" stroke="#000" stroke-width="1.13" />
<line x1="495.3" y1="296.3" x2="495.3" y2="299.3" stroke="#000" stroke-width="1.13" />
<line x1="400" y1="302.3" x2="400" y2="305.3" stroke="#000" stroke-width="1.13" />
<line x1="495.3" y1="302.3" x2="495.3" y2="305.3" stroke="#000" stroke-width="1.13" />
<line x1="400" y1="308.3" x2="400" y2="311.3" stroke="#000" stroke-width="1.13" />
<line x1="495.3" y1="308.3" x2="495.3" y2="311.3" stroke="#000" stroke-width="1.13" />
<line x1="400" y1="314.3" x2="400" y2="317.3" stroke="#000" stroke-width="1.13" />
<line x1="495.3" y1="314.3" x2="495.3" y2="317.3" stroke="#000" stroke-width="1.13" />
<line x1="400" y1="320.3" x2="400" y2="323.3" stroke="#000" stroke-width="1.13" />
<line x1="495.3" y1="320.3" x2="495.3" y2="323.3" stroke="#000" stroke-width="1.13" />
<line x1="400" y1="326.3" x2="400" y2="329.3" stroke="#000" stroke-width="1.13" />
<line x1="495.3" y1="326.3" x2="495.3" y2="329.3" stroke="#000" stroke-width="1.13" />
<line x1="400" y1="332.3" x2="400" y2="335.3" stroke="#000" stroke-width="1.13" />
<line x1="495.3" y1="332.3" x2="495.3" y2="335.3" stroke="#000" stroke-width="1.13" />
<line x1="400" y1="338.3" x2="400" y2="341.3" stroke="#000" stroke-width="1.13" />
<line x1="495.3" y1="338.3" x2="495.3" y2="341.3" stroke="#000" stroke-width="1.13" />
<line x1="400" y1="344.3" x2="400" y2="347.3" stroke="#000" stroke-width="1.13" />
<line x1="495.3" y1="344.3" x2="495.3" y2="347.3" stroke="#000" stroke-width="1.13" />
<line x1="400" y1="350.3" x2="400" y2="353.3" stroke="#000" stroke-width="1.13" />
<line x1="495.3" y1="350.3" x2="495.3" y2="353.3" stroke="#000" stroke-width="1.13" />
<line x1="400" y1="356.3" x2="400" y2="359.3" stroke="#000" stroke-width="1.13" />
<line x1="495.3" y1="356.3" x2="495.3" y2="359.3" stroke="#000" stroke-width="1.13" />
<line x1="400" y1="362.3" x2="400" y2="365.3" stroke="#000" stroke-width="1.13" />
<line x1="495.3" y1="362.3" x2="495.3" y2="365.3" stroke="#000" stroke-width="1.13" />
<line x1="400" y1="368.3" x2="400" y2="371.3" stroke="#000" stroke-width="1.13" />
<line x1="495.3" y1="368.3" x2="495.3" y2="371.3" stroke="#000" stroke-width="1.13" />
<line x1="400" y1="374.3" x2="400" y2="377.3" stroke="#000" stroke-width="1.13" />
<line x1="495.3" y1="374.3" x2="495.3" y2="377.3" stroke="#000" stroke-width="1.13" />
<line x1="400" y1="380.3" x2="400" y2="383.3" stroke="#000" stroke-width="1.13" />
<line x1="495.3" y1="380.3" x2="495.3" y2="383.3" stroke="#000" stroke-width="1.13" />
<line x1="400" y1="386.3" x2="400" y2="389.3" stroke="#000" stroke-width="1.13" />
<line x1="495.3" y1="386.3" x2="495.3" y2="389.3" stroke="#000" stroke-width="1.13" />
<line x1="400" y1="392.3" x2="400" y2="395.3" stroke="#000" stroke-width="1.13" />
<line x1="495.3" y1="392.3" x2="495.3" y2="395.3" stroke="#000" stroke-width="1.13" />
<line x1="400" y1="398.3" x2="400" y2="401.3" stroke="#000" stroke-width="1.13" />
<line x1="495.3" y1="398.3" x2="495.3" y2="401.3" stroke="#000" stroke-width="1.13" />
<line x1="400" y1="404.3" x2="400" y2="407.3" stroke="#000" stroke-width="1.13" />
<line x1="495.3" y1="404.3" x2="495.3" y2="407.3" stroke="#000" stroke-width="1.13" />
<line x1="400" y1="410.3" x2="400" y2="413.3" stroke="#000" stroke-width="1.13" />
<line x1="495.3" y1="410.3" x2="495.3" y2="413.3" stroke="#000" stroke-width="1.13" />
<line x1="400" y1="416.3" x2="400" y2="419.3" stroke="#000" stroke-width="1.13" />
<line x1="495.3" y1="416.3" x2="495.3" y2="419.3" stroke="#000" stroke-width="1.13" />
<line x1="400" y1="422.3" x2="400" y2="425.3" stroke="#000" stroke-width="1.13" />
<line x1="495.3" y1="422.3" x2="495.3" y2="425.3" stroke="#000" stroke-width="1.13" />
<line x1="400" y1="428.3" x2="400" y2="431.3" stroke="#000" stroke-width="1.13" />
<line x1="495.3" y1="428.3" x2="495.3" y2="431.3" stroke="#000" stroke-width="1.13" />
<path d="M399.7 296 L399.7 262.6 Q399.7 257.1 405.2 257.1 L431.9 255.4" stroke="#000" stroke-width="1.243" fill="none" />
<path d="M399.7 431 L399.7 465.1 Q399.7 470.6 405.2 470.6 L431.9 472.3" stroke="#000" stroke-width="1.243" fill="none" />
<path d="M495.6 296 L495.6 263.4 Q495.6 257.9 490.1 257.9 L442.3 255.4" stroke="#000" stroke-width="1.243" fill="none" />
<path d="M495.6 431 L495.6 463.6 Q495.6 469.1 490.1 469.1 L442.3 472.3" stroke="#000" stroke-width="1.243" fill="none" />
<line x1="406.5" y1="257.1" x2="406.5" y2="470.6" stroke="#000" stroke-width="1.13" />
<line x1="489.2" y1="257.9" x2="489.2" y2="469.1" stroke="#000" stroke-width="1.13" />
<line x1="399.7" y1="270.8" x2="431.9" y2="269.4" stroke="#000" stroke-width="1.13" />
<line x1="442.3" y1="269.4" x2="495.6" y2="272" stroke="#000" stroke-width="1.13" />
<line x1="399.7" y1="457.7" x2="431.9" y2="459" stroke="#000" stroke-width="1.13" />
<line x1="442.3" y1="459" x2="495.6" y2="456" stroke="#000" stroke-width="1.13" />
<line x1="431.9" y1="254.8" x2="431.9" y2="472.9" stroke="#000" stroke-width="1.469" />
<line x1="437" y1="254.8" x2="437" y2="472.9" stroke="#000" stroke-width="2.2" />
<line x1="442.3" y1="254.8" x2="442.3" y2="472.9" stroke="#000" stroke-width="1.469" />
<line x1="431.9" y1="254.8" x2="442.3" y2="254.8" stroke="#000" stroke-width="1.13" />
<line x1="431.9" y1="472.9" x2="442.3" y2="472.9" stroke="#000" stroke-width="1.13" />
</g>
<g id="v5">
<line x1="69.3" y1="476.7" x2="69.3" y2="530.8" stroke="#000" stroke-width="1.13" />
<line x1="68.7" y1="541" x2="68.7" y2="572.6" stroke="#000" stroke-width="1.13" />
<line x1="72.59" y1="478.1" x2="72.59" y2="530.8" stroke="#000" stroke-width="1.13" />
<line x1="71.99" y1="541" x2="71.99" y2="571.2" stroke="#000" stroke-width="1.13" />
<line x1="75.34" y1="478.1" x2="75.34" y2="530.8" stroke="#000" stroke-width="1.13" />
<line x1="74.74" y1="541" x2="74.74" y2="571.2" stroke="#000" stroke-width="1.13" />
<line x1="78.63" y1="478.1" x2="78.63" y2="530.8" stroke="#000" stroke-width="1.13" />
<line x1="78.03" y1="541" x2="78.03" y2="571.2" stroke="#000" stroke-width="1.13" />
<line x1="81.38" y1="478.1" x2="81.38" y2="530.8" stroke="#000" stroke-width="1.13" />
<line x1="80.78" y1="541" x2="80.78" y2="571.2" stroke="#000" stroke-width="1.13" />
<line x1="84.67" y1="478.1" x2="84.67" y2="530.8" stroke="#000" stroke-width="1.13" />
<line x1="84.07" y1="541" x2="84.07" y2="571.2" stroke="#000" stroke-width="1.13" />
<line x1="87.42" y1="478.1" x2="87.42" y2="530.8" stroke="#000" stroke-width="1.13" />
<line x1="86.82" y1="541" x2="86.82" y2="571.2" stroke="#000" stroke-width="1.13" />
<line x1="90.71" y1="478.1" x2="90.71" y2="530.8" stroke="#000" stroke-width="1.13" />
<line x1="90.11" y1="541" x2="90.11" y2="571.2" stroke="#000" stroke-width="1.13" />
<line x1="93.46" y1="478.1" x2="93.46" y2="530.8" stroke="#000" stroke-width="1.13" />
<line x1="92.86" y1="541" x2="92.86" y2="571.2" stroke="#000" stroke-width="1.13" />
<line x1="96.75" y1="478.1" x2="96.75" y2="530.8" stroke="#000" stroke-width="1.13" />
<line x1="96.15" y1="541" x2="96.15" y2="571.2" stroke="#000" stroke-width="1.13" />
<line x1="99.5" y1="478.1" x2="99.5" y2="530.8" stroke="#000" stroke-width="1.13" />
<line x1="98.9" y1="541" x2="98.9" y2="571.2" stroke="#000" stroke-width="1.13" />
<line x1="102.79" y1="478.1" x2="102.79" y2="530.8" stroke="#000" stroke-width="1.13" />
<line x1="102.19" y1="541" x2="102.19" y2="571.2" stroke="#000" stroke-width="1.13" />
<line x1="105.54" y1="478.1" x2="105.54" y2="530.8" stroke="#000" stroke-width="1.13" />
<line x1="104.94" y1="541" x2="104.94" y2="571.2" stroke="#000" stroke-width="1.13" />
<line x1="108.83" y1="478.1" x2="108.83" y2="530.8" stroke="#000" stroke-width="1.13" />
<line x1="108.23" y1="541" x2="108.23" y2="571.2" stroke="#000" stroke-width="1.13" />
<line x1="111.58" y1="478.1" x2="111.58" y2="530.8" stroke="#000" stroke-width="1.13" />
<line x1="110.98" y1="541" x2="110.98" y2="571.2" stroke="#000" stroke-width="1.13" />
<line x1="114.87" y1="478.1" x2="114.87" y2="530.8" stroke="#000" stroke-width="1.13" />
<line x1="114.27" y1="541" x2="114.27" y2="571.2" stroke="#000" stroke-width="1.13" />
<line x1="117.62" y1="478.1" x2="117.62" y2="530.8" stroke="#000" stroke-width="1.13" />
<line x1="117.02" y1="541" x2="117.02" y2="571.2" stroke="#000" stroke-width="1.13" />
<line x1="120.91" y1="478.1" x2="120.91" y2="530.8" stroke="#000" stroke-width="1.13" />
<line x1="120.31" y1="541" x2="120.31" y2="571.2" stroke="#000" stroke-width="1.13" />
<line x1="123.66" y1="478.1" x2="123.66" y2="530.8" stroke="#000" stroke-width="1.13" />
<line x1="123.06" y1="541" x2="123.06" y2="571.2" stroke="#000" stroke-width="1.13" />
<line x1="126.95" y1="478.1" x2="126.95" y2="530.8" stroke="#000" stroke-width="1.13" />
<line x1="126.35" y1="541" x2="126.35" y2="571.2" stroke="#000" stroke-width="1.13" />
<line x1="129.7" y1="478.1" x2="129.7" y2="530.8" stroke="#000" stroke-width="1.13" />
<line x1="129.1" y1="541" x2="129.1" y2="571.2" stroke="#000" stroke-width="1.13" />
<line x1="132.99" y1="478.1" x2="132.99" y2="530.8" stroke="#000" stroke-width="1.13" />
<line x1="132.39" y1="541" x2="132.39" y2="571.2" stroke="#000" stroke-width="1.13" />
<line x1="135.74" y1="478.1" x2="135.74" y2="530.8" stroke="#000" stroke-width="1.13" />
<line x1="135.14" y1="541" x2="135.14" y2="571.2" stroke="#000" stroke-width="1.13" />
<line x1="139.03" y1="478.1" x2="139.03" y2="530.8" stroke="#000" stroke-width="1.13" />
<line x1="138.43" y1="541" x2="138.43" y2="571.2" stroke="#000" stroke-width="1.13" />
<line x1="141.78" y1="478.1" x2="141.78" y2="530.8" stroke="#000" stroke-width="1.13" />
<line x1="141.18" y1="541" x2="141.18" y2="571.2" stroke="#000" stroke-width="1.13" />
<line x1="145.07" y1="478.1" x2="145.07" y2="530.8" stroke="#000" stroke-width="1.13" />
<line x1="144.47" y1="541" x2="144.47" y2="571.2" stroke="#000" stroke-width="1.13" />
<line x1="147.82" y1="478.1" x2="147.82" y2="530.8" stroke="#000" stroke-width="1.13" />
<line x1="147.22" y1="541" x2="147.22" y2="571.2" stroke="#000" stroke-width="1.13" />
<line x1="151.11" y1="478.1" x2="151.11" y2="530.8" stroke="#000" stroke-width="1.13" />
<line x1="150.51" y1="541" x2="150.51" y2="571.2" stroke="#000" stroke-width="1.13" />
<line x1="153.86" y1="478.1" x2="153.86" y2="530.8" stroke="#000" stroke-width="1.13" />
<line x1="153.26" y1="541" x2="153.26" y2="571.2" stroke="#000" stroke-width="1.13" />
<line x1="157.15" y1="478.1" x2="157.15" y2="530.8" stroke="#000" stroke-width="1.13" />
<line x1="156.55" y1="541" x2="156.55" y2="571.2" stroke="#000" stroke-width="1.13" />
<line x1="159.9" y1="478.1" x2="159.9" y2="530.8" stroke="#000" stroke-width="1.13" />
<line x1="159.3" y1="541" x2="159.3" y2="571.2" stroke="#000" stroke-width="1.13" />
<line x1="163.19" y1="478.1" x2="163.19" y2="530.8" stroke="#000" stroke-width="1.13" />
<line x1="162.59" y1="541" x2="162.59" y2="571.2" stroke="#000" stroke-width="1.13" />
<line x1="165.94" y1="478.1" x2="165.94" y2="530.8" stroke="#000" stroke-width="1.13" />
<line x1="165.34" y1="541" x2="165.34" y2="571.2" stroke="#000" stroke-width="1.13" />
<line x1="169.23" y1="478.1" x2="169.23" y2="530.8" stroke="#000" stroke-width="1.13" />
<line x1="168.63" y1="541" x2="168.63" y2="571.2" stroke="#000" stroke-width="1.13" />
<line x1="171.98" y1="478.1" x2="171.98" y2="530.8" stroke="#000" stroke-width="1.13" />
<line x1="171.38" y1="541" x2="171.38" y2="571.2" stroke="#000" stroke-width="1.13" />
<line x1="175.27" y1="478.1" x2="175.27" y2="530.8" stroke="#000" stroke-width="1.13" />
<line x1="174.67" y1="541" x2="174.67" y2="571.2" stroke="#000" stroke-width="1.13" />
<line x1="178.02" y1="478.1" x2="178.02" y2="530.8" stroke="#000" stroke-width="1.13" />
<line x1="177.42" y1="541" x2="177.42" y2="571.2" stroke="#000" stroke-width="1.13" />
<line x1="181.31" y1="478.1" x2="181.31" y2="530.8" stroke="#000" stroke-width="1.13" />
<line x1="180.71" y1="541" x2="180.71" y2="571.2" stroke="#000" stroke-width="1.13" />
<line x1="184.06" y1="478.1" x2="184.06" y2="530.8" stroke="#000" stroke-width="1.13" />
<line x1="183.46" y1="541" x2="183.46" y2="571.2" stroke="#000" stroke-width="1.13" />
<line x1="187.35" y1="478.1" x2="187.35" y2="530.8" stroke="#000" stroke-width="1.13" />
<line x1="186.75" y1="541" x2="186.75" y2="571.2" stroke="#000" stroke-width="1.13" />
<line x1="190.1" y1="478.1" x2="190.1" y2="530.8" stroke="#000" stroke-width="1.13" />
<line x1="189.5" y1="541" x2="189.5" y2="571.2" stroke="#000" stroke-width="1.13" />
<line x1="193.39" y1="478.1" x2="193.39" y2="530.8" stroke="#000" stroke-width="1.13" />
<line x1="192.79" y1="541" x2="192.79" y2="571.2" stroke="#000" stroke-width="1.13" />
<line x1="196.14" y1="478.1" x2="196.14" y2="530.8" stroke="#000" stroke-width="1.13" />
<line x1="195.54" y1="541" x2="195.54" y2="571.2" stroke="#000" stroke-width="1.13" />
<line x1="199.43" y1="478.1" x2="199.43" y2="530.8" stroke="#000" stroke-width="1.13" />
<line x1="198.83" y1="541" x2="198.83" y2="571.2" stroke="#000" stroke-width="1.13" />
<line x1="202.18" y1="478.1" x2="202.18" y2="530.8" stroke="#000" stroke-width="1.13" />
<line x1="201.58" y1="541" x2="201.58" y2="571.2" stroke="#000" stroke-width="1.13" />
<line x1="205.47" y1="478.1" x2="205.47" y2="530.8" stroke="#000" stroke-width="1.13" />
<line x1="204.87" y1="541" x2="204.87" y2="571.2" stroke="#000" stroke-width="1.13" />
<line x1="205.4" y1="476.7" x2="205.4" y2="530.8" stroke="#000" stroke-width="1.13" />
<line x1="204.8" y1="541" x2="204.8" y2="572.6" stroke="#000" stroke-width="1.13" />
<path d="M72.59 478.3 Q72.59 476.7 73.69 476.7 L74.24 476.7 Q75.34 476.7 75.34 478.3" stroke="#000" stroke-width="1.13" fill="none" />
<path d="M71.99 571 Q71.99 572.6 73.09 572.6 L73.64 572.6 Q74.74 572.6 74.74 571" stroke="#000" stroke-width="1.13" fill="none" />
<path d="M78.63 478.3 Q78.63 476.7 79.73 476.7 L80.28 476.7 Q81.38 476.7 81.38 478.3" stroke="#000" stroke-width="1.13" fill="none" />
<path d="M78.03 571 Q78.03 572.6 79.13 572.6 L79.68 572.6 Q80.78 572.6 80.78 571" stroke="#000" stroke-width="1.13" fill="none" />
<path d="M84.67 478.3 Q84.67 476.7 85.77 476.7 L86.32 476.7 Q87.42 476.7 87.42 478.3" stroke="#000" stroke-width="1.13" fill="none" />
<path d="M84.07 571 Q84.07 572.6 85.17 572.6 L85.72 572.6 Q86.82 572.6 86.82 571" stroke="#000" stroke-width="1.13" fill="none" />
<path d="M90.71 478.3 Q90.71 476.7 91.81 476.7 L92.36 476.7 Q93.46 476.7 93.46 478.3" stroke="#000" stroke-width="1.13" fill="none" />
<path d="M90.11 571 Q90.11 572.6 91.21 572.6 L91.76 572.6 Q92.86 572.6 92.86 571" stroke="#000" stroke-width="1.13" fill="none" />
<path d="M96.75 478.3 Q96.75 476.7 97.85 476.7 L98.4 476.7 Q99.5 476.7 99.5 478.3" stroke="#000" stroke-width="1.13" fill="none" />
<path d="M96.15 571 Q96.15 572.6 97.25 572.6 L97.8 572.6 Q98.9 572.6 98.9 571" stroke="#000" stroke-width="1.13" fill="none" />
<path d="M102.79 478.3 Q102.79 476.7 103.89 476.7 L104.44 476.7 Q105.54 476.7 105.54 478.3" stroke="#000" stroke-width="1.13" fill="none" />
<path d="M102.19 571 Q102.19 572.6 103.29 572.6 L103.84 572.6 Q104.94 572.6 104.94 571" stroke="#000" stroke-width="1.13" fill="none" />
<path d="M108.83 478.3 Q108.83 476.7 109.93 476.7 L110.48 476.7 Q111.58 476.7 111.58 478.3" stroke="#000" stroke-width="1.13" fill="none" />
<path d="M108.23 571 Q108.23 572.6 109.33 572.6 L109.88 572.6 Q110.98 572.6 110.98 571" stroke="#000" stroke-width="1.13" fill="none" />
<path d="M114.87 478.3 Q114.87 476.7 115.97 476.7 L116.52 476.7 Q117.62 476.7 117.62 478.3" stroke="#000" stroke-width="1.13" fill="none" />
<path d="M114.27 571 Q114.27 572.6 115.37 572.6 L115.92 572.6 Q117.02 572.6 117.02 571" stroke="#000" stroke-width="1.13" fill="none" />
<path d="M120.91 478.3 Q120.91 476.7 122.01 476.7 L122.56 476.7 Q123.66 476.7 123.66 478.3" stroke="#000" stroke-width="1.13" fill="none" />
<path d="M120.31 571 Q120.31 572.6 121.41 572.6 L121.96 572.6 Q123.06 572.6 123.06 571" stroke="#000" stroke-width="1.13" fill="none" />
<path d="M126.95 478.3 Q126.95 476.7 128.05 476.7 L128.6 476.7 Q129.7 476.7 129.7 478.3" stroke="#000" stroke-width="1.13" fill="none" />
<path d="M126.35 571 Q126.35 572.6 127.45 572.6 L128 572.6 Q129.1 572.6 129.1 571" stroke="#000" stroke-width="1.13" fill="none" />
<path d="M132.99 478.3 Q132.99 476.7 134.09 476.7 L134.64 476.7 Q135.74 476.7 135.74 478.3" stroke="#000" stroke-width="1.13" fill="none" />
<path d="M132.39 571 Q132.39 572.6 133.49 572.6 L134.04 572.6 Q135.14 572.6 135.14 571" stroke="#000" stroke-width="1.13" fill="none" />
<path d="M139.03 478.3 Q139.03 476.7 140.13 476.7 L140.68 476.7 Q141.78 476.7 141.78 478.3" stroke="#000" stroke-width="1.13" fill="none" />
<path d="M138.43 571 Q138.43 572.6 139.53 572.6 L140.08 572.6 Q141.18 572.6 141.18 571" stroke="#000" stroke-width="1.13" fill="none" />
<path d="M145.07 478.3 Q145.07 476.7 146.17 476.7 L146.72 476.7 Q147.82 476.7 147.82 478.3" stroke="#000" stroke-width="1.13" fill="none" />
<path d="M144.47 571 Q144.47 572.6 145.57 572.6 L146.12 572.6 Q147.22 572.6 147.22 571" stroke="#000" stroke-width="1.13" fill="none" />
<path d="M151.11 478.3 Q151.11 476.7 152.21 476.7 L152.76 476.7 Q153.86 476.7 153.86 478.3" stroke="#000" stroke-width="1.13" fill="none" />
<path d="M150.51 571 Q150.51 572.6 151.61 572.6 L152.16 572.6 Q153.26 572.6 153.26 571" stroke="#000" stroke-width="1.13" fill="none" />
<path d="M157.15 478.3 Q157.15 476.7 158.25 476.7 L158.8 476.7 Q159.9 476.7 159.9 478.3" stroke="#000" stroke-width="1.13" fill="none" />
<path d="M156.55 571 Q156.55 572.6 157.65 572.6 L158.2 572.6 Q159.3 572.6 159.3 571" stroke="#000" stroke-width="1.13" fill="none" />
<path d="M163.19 478.3 Q163.19 476.7 164.29 476.7 L164.84 476.7 Q165.94 476.7 165.94 478.3" stroke="#000" stroke-width="1.13" fill="none" />
<path d="M162.59 571 Q162.59 572.6 163.69 572.6 L164.24 572.6 Q165.34 572.6 165.34 571" stroke="#000" stroke-width="1.13" fill="none" />
<path d="M169.23 478.3 Q169.23 476.7 170.33 476.7 L170.88 476.7 Q171.98 476.7 171.98 478.3" stroke="#000" stroke-width="1.13" fill="none" />
<path d="M168.63 571 Q168.63 572.6 169.73 572.6 L170.28 572.6 Q171.38 572.6 171.38 571" stroke="#000" stroke-width="1.13" fill="none" />
<path d="M175.27 478.3 Q175.27 476.7 176.37 476.7 L176.92 476.7 Q178.02 476.7 178.02 478.3" stroke="#000" stroke-width="1.13" fill="none" />
<path d="M174.67 571 Q174.67 572.6 175.77 572.6 L176.32 572.6 Q177.42 572.6 177.42 571" stroke="#000" stroke-width="1.13" fill="none" />
<path d="M181.31 478.3 Q181.31 476.7 182.41 476.7 L182.96 476.7 Q184.06 476.7 184.06 478.3" stroke="#000" stroke-width="1.13" fill="none" />
<path d="M180.71 571 Q180.71 572.6 181.81 572.6 L182.36 572.6 Q183.46 572.6 183.46 571" stroke="#000" stroke-width="1.13" fill="none" />
<path d="M187.35 478.3 Q187.35 476.7 188.45 476.7 L189 476.7 Q190.1 476.7 190.1 478.3" stroke="#000" stroke-width="1.13" fill="none" />
<path d="M186.75 571 Q186.75 572.6 187.85 572.6 L188.4 572.6 Q189.5 572.6 189.5 571" stroke="#000" stroke-width="1.13" fill="none" />
<path d="M193.39 478.3 Q193.39 476.7 194.49 476.7 L195.04 476.7 Q196.14 476.7 196.14 478.3" stroke="#000" stroke-width="1.13" fill="none" />
<path d="M192.79 571 Q192.79 572.6 193.89 572.6 L194.44 572.6 Q195.54 572.6 195.54 571" stroke="#000" stroke-width="1.13" fill="none" />
<path d="M199.43 478.3 Q199.43 476.7 200.53 476.7 L201.08 476.7 Q202.18 476.7 202.18 478.3" stroke="#000" stroke-width="1.13" fill="none" />
<path d="M198.83 571 Q198.83 572.6 199.93 572.6 L200.48 572.6 Q201.58 572.6 201.58 571" stroke="#000" stroke-width="1.13" fill="none" />
<path d="M28.2 530.8 L30.4 482.7 Q30.6 476.7 36.6 476.7 L69.3 476.7" stroke="#000" stroke-width="1.243" fill="none" />
<path d="M205.6 476.7 L237 476.7 Q243 476.7 243.2 482.7 L245.3 530.8" stroke="#000" stroke-width="1.243" fill="none" />
<path d="M28.2 541 L30.2 566.6 Q30.4 572.6 36.4 572.6 L68.7 572.6" stroke="#000" stroke-width="1.243" fill="none" />
<path d="M205 572.6 L237.6 572.6 Q243.6 572.6 243.8 566.6 L245.3 541" stroke="#000" stroke-width="1.243" fill="none" />
<line x1="30.3" y1="483.5" x2="69.3" y2="483.5" stroke="#000" stroke-width="1.13" />
<line x1="205.5" y1="483.5" x2="243.3" y2="483.5" stroke="#000" stroke-width="1.13" />
<line x1="30.3" y1="565.9" x2="243.7" y2="565.9" stroke="#000" stroke-width="1.13" />
<line x1="44.7" y1="476.7" x2="43" y2="530.8" stroke="#000" stroke-width="1.13" />
<line x1="43" y1="541" x2="44.4" y2="572.6" stroke="#000" stroke-width="1.13" />
<line x1="229.4" y1="476.7" x2="231" y2="530.8" stroke="#000" stroke-width="1.13" />
<line x1="231" y1="541" x2="229.8" y2="572.6" stroke="#000" stroke-width="1.13" />
<line x1="43" y1="530.8" x2="43" y2="541" stroke="#000" stroke-width="1.6" />
<line x1="231" y1="530.8" x2="231" y2="541" stroke="#000" stroke-width="1.6" />
<rect x="27.2" y="530.8" width="219.6" height="10.2" rx="2" ry="2" stroke="#000" stroke-width="1.469" fill="none"/>
<line x1="27.2" y1="535.5" x2="246.8" y2="535.5" stroke="#000" stroke-width="2.0" />
<line x1="171" y1="572.6" x2="172.7" y2="634.6" stroke="#000" stroke-width="1.13" />
<line x1="176.3" y1="572.6" x2="178.3" y2="634.6" stroke="#000" stroke-width="1.13" />
<line x1="190.4" y1="572.6" x2="192.5" y2="634.6" stroke="#000" stroke-width="1.13" />
<line x1="200.2" y1="572.6" x2="198.8" y2="634.6" stroke="#000" stroke-width="1.13" />
<line x1="213.3" y1="572.6" x2="212.3" y2="634.6" stroke="#000" stroke-width="1.13" />
<line x1="220" y1="572.6" x2="219.2" y2="634.6" stroke="#000" stroke-width="1.13" />
<line x1="172.7" y1="634.6" x2="219.2" y2="634.6" stroke="#000" stroke-width="1.243" />
<path d="M188.3 634.6 L188.3 641.7 L202.3 641.7 L202.3 634.6" stroke="#000" stroke-width="1.13" fill="none" />
<path d="M189.2 641.7 L189.2 669.4 L201.4 669.4 L201.4 641.7" stroke="#000" stroke-width="1.13" fill="none" />
<path d="M188.3 669.4 L188.3 693.3 L202.3 693.3 L202.3 669.4 L188.3 669.4" stroke="#000" stroke-width="1.13" fill="none" />
<line x1="188.3" y1="670.9" x2="202.3" y2="670.9" stroke="#000" stroke-width="0.904" />
<path d="M188.3 693.3 A7 7 0 0 0 202.3 693.3" stroke="#000" stroke-width="1.13" fill="none" />
</g>
<g id="v6">
<path d="M288.8 585.2 A7 7 0 0 0 288.8 599.2" stroke="#000" stroke-width="1.13" fill="none" />
<line x1="288.8" y1="585.2" x2="288.8" y2="599.2" stroke="#000" stroke-width="1.13" />
<path d="M288.8 585.2 L312.7 584.6 L312.7 599.2 L288.8 599.2" stroke="#000" stroke-width="1.13" fill="none" />
<path d="M312.7 586.2 L339.4 584.8 L339.4 596.6 L312.7 598.6" stroke="#000" stroke-width="1.13" fill="none" />
<path d="M339.4 583 L347.6 582.6 L347.6 597 L339.4 596.8 L339.4 583" stroke="#000" stroke-width="1.13" fill="none" />
<path d="M288.8 645.6 A7 7 0 0 0 288.8 659.6" stroke="#000" stroke-width="1.13" fill="none" />
<line x1="288.8" y1="645.6" x2="288.8" y2="659.6" stroke="#000" stroke-width="1.13" />
<path d="M288.8 645.6 L312.7 645.6 L312.7 660.2 L288.8 659.6" stroke="#000" stroke-width="1.13" fill="none" />
<path d="M312.7 646.6 L339.4 647.2 L339.4 659 L312.7 659" stroke="#000" stroke-width="1.13" fill="none" />
<path d="M339.4 645.4 L347.6 645 L347.6 659.4 L339.4 659.2 L339.4 645.4" stroke="#000" stroke-width="1.13" fill="none" />
<line x1="347.6" y1="563.9" x2="347.6" y2="680.5" stroke="#000" stroke-width="1.243" />
<line x1="347.6" y1="563.9" x2="409.9" y2="561.7" stroke="#000" stroke-width="1.243" />
<line x1="347.6" y1="564.6" x2="409.9" y2="562.9" stroke="#000" stroke-width="0.791" />
<line x1="347.6" y1="579.1" x2="409.9" y2="577.6" stroke="#000" stroke-width="1.13" />
<line x1="347.6" y1="591.2" x2="409.9" y2="591.2" stroke="#000" stroke-width="1.13" />
<line x1="347.6" y1="653.5" x2="409.9" y2="653.5" stroke="#000" stroke-width="1.13" />
<line x1="347.6" y1="665.8" x2="409.9" y2="667.3" stroke="#000" stroke-width="1.13" />
<line x1="347.6" y1="680.5" x2="409.9" y2="682" stroke="#000" stroke-width="1.243" />
<line x1="347.6" y1="679.8" x2="409.9" y2="680.8" stroke="#000" stroke-width="0.791" />
<path d="M409.8 564.7 Q409.8 558.6 415.3 558.6 L442.2 558.2" stroke="#000" stroke-width="1.243" fill="none" />
<path d="M409.8 679.8 Q409.8 685.9 415.3 685.9 L442.2 688" stroke="#000" stroke-width="1.243" fill="none" />
<line x1="409.8" y1="564.1" x2="409.8" y2="680.4" stroke="#000" stroke-width="1.243" />
<path d="M410.8 563.1 Q411 559.1 416.3 559 L442.2 558.5" stroke="#000" stroke-width="1.6" fill="none" />
<path d="M410.8 681.4 Q411 685.4 416.3 685.5 L442.2 687.7" stroke="#000" stroke-width="1.6" fill="none" />
<path d="M452 559.4 L499.7 562.4 Q505.2 562.4 505.2 568.5 L505.2 678.7 Q505.2 684.8 499.7 684.8 L452 686.8" stroke="#000" stroke-width="1.13" fill="none" />
<line x1="416.1" y1="558.6" x2="416.1" y2="685.9" stroke="#000" stroke-width="1.13" />
<line x1="498.9" y1="562.4" x2="498.9" y2="684.8" stroke="#000" stroke-width="1.13" />
<path d="M409.8 573.9 L442.2 572.6" stroke="#000" stroke-width="1.13" fill="none" />
<path d="M452 573.2 L505.2 576.2" stroke="#000" stroke-width="1.13" fill="none" />
<path d="M409.8 670.7 L442.2 672.6" stroke="#000" stroke-width="1.13" fill="none" />
<path d="M452 672.4 L505.2 671" stroke="#000" stroke-width="1.13" fill="none" />
<line x1="441" y1="556.2" x2="441" y2="600.3" stroke="#000" stroke-width="1.469" />
<line x1="446.6" y1="556.2" x2="446.6" y2="600.3" stroke="#000" stroke-width="1.469" />
<line x1="443.8" y1="556.2" x2="443.8" y2="600.3" stroke="#777" stroke-width="2.2" />
<line x1="441" y1="556.2" x2="446.6" y2="556.2" stroke="#000" stroke-width="0.904" />
<path d="M446.6 559.2 L452.1 559.2 L452.1 593.2 L446.6 593.2" stroke="#000" stroke-width="1.243" fill="none" />
<path d="M446.6 600.6 L433.9 600.6 L433.9 644.5 L441 644.5" stroke="#000" stroke-width="1.243" fill="none" />
<path d="M446.6 601.6 L452.9 601.6 L452.9 646.4 L446.6 646.4" stroke="#000" stroke-width="1.243" fill="none" />
<line x1="446.8" y1="600.6" x2="446.8" y2="646.4" stroke="#000" stroke-width="1.356" />
<line x1="441" y1="644.5" x2="441" y2="689" stroke="#000" stroke-width="1.469" />
<line x1="446.6" y1="646.4" x2="446.6" y2="689" stroke="#000" stroke-width="1.469" />
<line x1="443.8" y1="644.5" x2="443.8" y2="689" stroke="#777" stroke-width="2.2" />
<path d="M446.6 655.2 L452.1 655.2 L452.1 688 L441 689" stroke="#000" stroke-width="1.243" fill="none" />
</g>
<g id="iso">
<path d="M794.4 520.9 L807.2 513.2" stroke="#000" stroke-width="1.13" fill="none" />
<path d="M799.1 530.4 L813.6 522.6" stroke="#000" stroke-width="1.13" fill="none" />
<path d="M806.7 512.1 Q814.5 514.5 814.6 524.6" stroke="#000" stroke-width="1.243" fill="none" />
<path d="M805.6 513.2 Q812.6 516 813.2 524.2" stroke="#000" stroke-width="0.791" fill="none" />
<path d="M806.7 512.1 L826.2 502" stroke="#000" stroke-width="1.13" fill="none" />
<path d="M814.6 524.6 L832.6 513.6" stroke="#000" stroke-width="1.13" fill="none" />
<path d="M826.2 502 Q831.6 500.2 833.6 505.2 Q835.2 510.6 832.6 513.6" stroke="#000" stroke-width="1.13" fill="none" />
<path d="M827.6 502.4 Q831.6 505.6 832.2 513.4" stroke="#000" stroke-width="0.904" fill="none" />
<path d="M794.4 569.3 L807.2 561.6" stroke="#000" stroke-width="1.13" fill="none" />
<path d="M799.1 578.8 L813.6 571" stroke="#000" stroke-width="1.13" fill="none" />
<path d="M806.7 560.5 Q814.5 562.9 814.6 573" stroke="#000" stroke-width="1.243" fill="none" />
<path d="M805.6 561.6 Q812.6 564.4 813.2 572.6" stroke="#000" stroke-width="0.791" fill="none" />
<path d="M806.7 560.5 L826.2 550.4" stroke="#000" stroke-width="1.13" fill="none" />
<path d="M814.6 573 L832.6 562" stroke="#000" stroke-width="1.13" fill="none" />
<path d="M826.2 550.4 Q831.6 548.6 833.6 553.6 Q835.2 559 832.6 562" stroke="#000" stroke-width="1.13" fill="none" />
<path d="M827.6 550.8 Q831.6 554 832.2 561.8" stroke="#000" stroke-width="0.904" fill="none" />
<path d="M740.5 532.6 L783.4 508.6 Q786.4 507.4 788 510.8 L799.7 530.8 Q802 535 802 540.1 L802 588.5 Q802 592 798.6 594 L773 611.6 L760 560 Z" stroke="#000" stroke-width="1.13" fill="#fff" />
<path d="M746.1 536 L787.4 511.6" stroke="#000" stroke-width="1.13" fill="none" />
<path d="M764.1 548.3 L798.5 529.6" stroke="#000" stroke-width="1.13" fill="none" />
<path d="M773 558.6 L801.4 541.9" stroke="#000" stroke-width="1.13" fill="none" />
<path d="M773 605.6 L800.5 587.5" stroke="#000" stroke-width="1.13" fill="none" />
<path d="M565.8 589.5 L565.8 511.5 Q566 505.8 571 503.6 L595.5 485.6 Q600 480.6 606 479.4 L624.1 471.3 Q628.2 469.8 632.2 472.4 L741 535 L763.2 548.4 Q771.5 552.5 772.4 562.5 L773.4 641 Q773.4 646.8 770 649.4 L755.4 660.2 Q752 664.6 748.6 665.8 Q746 666.6 744.2 666.4 L718 678.6 Q710 685 703.6 678.2 L576.5 606 Q566.5 600.5 565.8 589.5 Z" stroke="#000" stroke-width="1.243" fill="#fff" />
<path d="M589.4 521.3 L685 577.4 L685.3 667.8 L589.4 612.4 Z" stroke="#000" stroke-width="0.6" fill="#555" />
<line x1="589.4" y1="521.7" x2="589.4" y2="612.2" stroke="#000" stroke-width="1.13" />
<line x1="590.65" y1="522.43" x2="590.65" y2="612.92" stroke="#fff" stroke-width="0.85" />
<line x1="591.69" y1="523.04" x2="591.69" y2="613.52" stroke="#222" stroke-width="0.7" />
<line x1="592.73" y1="523.65" x2="592.74" y2="614.13" stroke="#999" stroke-width="0.7" />
<line x1="593.56" y1="524.14" x2="593.57" y2="614.61" stroke="#000" stroke-width="1.13" />
<line x1="594.8" y1="524.87" x2="594.82" y2="615.33" stroke="#fff" stroke-width="0.85" />
<line x1="595.84" y1="525.48" x2="595.86" y2="615.93" stroke="#222" stroke-width="0.7" />
<line x1="596.88" y1="526.09" x2="596.91" y2="616.54" stroke="#999" stroke-width="0.7" />
<line x1="597.71" y1="526.58" x2="597.74" y2="617.02" stroke="#000" stroke-width="1.13" />
<line x1="598.96" y1="527.31" x2="598.99" y2="617.74" stroke="#fff" stroke-width="0.85" />
<line x1="600" y1="527.92" x2="600.03" y2="618.34" stroke="#222" stroke-width="0.7" />
<line x1="601.04" y1="528.53" x2="601.07" y2="618.94" stroke="#999" stroke-width="0.7" />
<line x1="601.87" y1="529.02" x2="601.91" y2="619.43" stroke="#000" stroke-width="1.13" />
<line x1="603.12" y1="529.75" x2="603.16" y2="620.15" stroke="#fff" stroke-width="0.85" />
<line x1="604.16" y1="530.36" x2="604.2" y2="620.75" stroke="#222" stroke-width="0.7" />
<line x1="605.19" y1="530.97" x2="605.24" y2="621.35" stroke="#999" stroke-width="0.7" />
<line x1="606.03" y1="531.46" x2="606.08" y2="621.83" stroke="#000" stroke-width="1.13" />
<line x1="607.27" y1="532.19" x2="607.33" y2="622.56" stroke="#fff" stroke-width="0.85" />
<line x1="608.31" y1="532.8" x2="608.37" y2="623.16" stroke="#222" stroke-width="0.7" />
<line x1="609.35" y1="533.41" x2="609.41" y2="623.76" stroke="#999" stroke-width="0.7" />
<line x1="610.18" y1="533.9" x2="610.25" y2="624.24" stroke="#000" stroke-width="1.13" />
<line x1="611.43" y1="534.63" x2="611.5" y2="624.97" stroke="#fff" stroke-width="0.85" />
<line x1="612.47" y1="535.24" x2="612.54" y2="625.57" stroke="#222" stroke-width="0.7" />
<line x1="613.51" y1="535.85" x2="613.58" y2="626.17" stroke="#999" stroke-width="0.7" />
<line x1="614.34" y1="536.33" x2="614.42" y2="626.65" stroke="#000" stroke-width="1.13" />
<line x1="615.59" y1="537.07" x2="615.67" y2="627.37" stroke="#fff" stroke-width="0.85" />
<line x1="616.63" y1="537.68" x2="616.71" y2="627.98" stroke="#222" stroke-width="0.7" />
<line x1="617.66" y1="538.29" x2="617.75" y2="628.58" stroke="#999" stroke-width="0.7" />
<line x1="618.5" y1="538.77" x2="618.59" y2="629.06" stroke="#000" stroke-width="1.13" />
<line x1="619.74" y1="539.51" x2="619.84" y2="629.78" stroke="#fff" stroke-width="0.85" />
<line x1="620.78" y1="540.12" x2="620.88" y2="630.39" stroke="#222" stroke-width="0.7" />
<line x1="621.82" y1="540.73" x2="621.92" y2="630.99" stroke="#999" stroke-width="0.7" />
<line x1="622.65" y1="541.21" x2="622.76" y2="631.47" stroke="#000" stroke-width="1.13" />
<line x1="623.9" y1="541.94" x2="624.01" y2="632.19" stroke="#fff" stroke-width="0.85" />
<line x1="624.94" y1="542.55" x2="625.05" y2="632.79" stroke="#222" stroke-width="0.7" />
<line x1="625.98" y1="543.16" x2="626.09" y2="633.4" stroke="#999" stroke-width="0.7" />
<line x1="626.81" y1="543.65" x2="626.93" y2="633.88" stroke="#000" stroke-width="1.13" />
<line x1="628.06" y1="544.38" x2="628.18" y2="634.6" stroke="#fff" stroke-width="0.85" />
<line x1="629.09" y1="544.99" x2="629.22" y2="635.2" stroke="#222" stroke-width="0.7" />
<line x1="630.13" y1="545.6" x2="630.26" y2="635.81" stroke="#999" stroke-width="0.7" />
<line x1="630.97" y1="546.09" x2="631.1" y2="636.29" stroke="#000" stroke-width="1.13" />
<line x1="632.21" y1="546.82" x2="632.35" y2="637.01" stroke="#fff" stroke-width="0.85" />
<line x1="633.25" y1="547.43" x2="633.39" y2="637.61" stroke="#222" stroke-width="0.7" />
<line x1="634.29" y1="548.04" x2="634.43" y2="638.21" stroke="#999" stroke-width="0.7" />
<line x1="635.12" y1="548.53" x2="635.27" y2="638.7" stroke="#000" stroke-width="1.13" />
<line x1="636.37" y1="549.26" x2="636.52" y2="639.42" stroke="#fff" stroke-width="0.85" />
<line x1="637.41" y1="549.87" x2="637.56" y2="640.02" stroke="#222" stroke-width="0.7" />
<line x1="638.45" y1="550.48" x2="638.6" y2="640.62" stroke="#999" stroke-width="0.7" />
<line x1="639.28" y1="550.97" x2="639.43" y2="641.1" stroke="#000" stroke-width="1.13" />
<line x1="640.53" y1="551.7" x2="640.69" y2="641.83" stroke="#fff" stroke-width="0.85" />
<line x1="641.56" y1="552.31" x2="641.73" y2="642.43" stroke="#222" stroke-width="0.7" />
<line x1="642.6" y1="552.92" x2="642.77" y2="643.03" stroke="#999" stroke-width="0.7" />
<line x1="643.43" y1="553.41" x2="643.6" y2="643.51" stroke="#000" stroke-width="1.13" />
<line x1="644.68" y1="554.14" x2="644.86" y2="644.24" stroke="#fff" stroke-width="0.85" />
<line x1="645.72" y1="554.75" x2="645.9" y2="644.84" stroke="#222" stroke-width="0.7" />
<line x1="646.76" y1="555.36" x2="646.94" y2="645.44" stroke="#999" stroke-width="0.7" />
<line x1="647.59" y1="555.85" x2="647.77" y2="645.92" stroke="#000" stroke-width="1.13" />
<line x1="648.84" y1="556.58" x2="649.02" y2="646.64" stroke="#fff" stroke-width="0.85" />
<line x1="649.88" y1="557.19" x2="650.07" y2="647.25" stroke="#222" stroke-width="0.7" />
<line x1="650.92" y1="557.8" x2="651.11" y2="647.85" stroke="#999" stroke-width="0.7" />
<line x1="651.75" y1="558.29" x2="651.94" y2="648.33" stroke="#000" stroke-width="1.13" />
<line x1="652.99" y1="559.02" x2="653.19" y2="649.05" stroke="#fff" stroke-width="0.85" />
<line x1="654.03" y1="559.63" x2="654.24" y2="649.66" stroke="#222" stroke-width="0.7" />
<line x1="655.07" y1="560.24" x2="655.28" y2="650.26" stroke="#999" stroke-width="0.7" />
<line x1="655.9" y1="560.73" x2="656.11" y2="650.74" stroke="#000" stroke-width="1.13" />
<line x1="657.15" y1="561.46" x2="657.36" y2="651.46" stroke="#fff" stroke-width="0.85" />
<line x1="658.19" y1="562.07" x2="658.41" y2="652.06" stroke="#222" stroke-width="0.7" />
<line x1="659.23" y1="562.68" x2="659.45" y2="652.67" stroke="#999" stroke-width="0.7" />
<line x1="660.06" y1="563.17" x2="660.28" y2="653.15" stroke="#000" stroke-width="1.13" />
<line x1="661.31" y1="563.9" x2="661.53" y2="653.87" stroke="#fff" stroke-width="0.85" />
<line x1="662.35" y1="564.51" x2="662.58" y2="654.47" stroke="#222" stroke-width="0.7" />
<line x1="663.39" y1="565.12" x2="663.62" y2="655.07" stroke="#999" stroke-width="0.7" />
<line x1="664.22" y1="565.6" x2="664.45" y2="655.56" stroke="#000" stroke-width="1.13" />
<line x1="665.46" y1="566.34" x2="665.7" y2="656.28" stroke="#fff" stroke-width="0.85" />
<line x1="666.5" y1="566.95" x2="666.75" y2="656.88" stroke="#222" stroke-width="0.7" />
<line x1="667.54" y1="567.56" x2="667.79" y2="657.48" stroke="#999" stroke-width="0.7" />
<line x1="668.37" y1="568.04" x2="668.62" y2="657.97" stroke="#000" stroke-width="1.13" />
<line x1="669.62" y1="568.78" x2="669.87" y2="658.69" stroke="#fff" stroke-width="0.85" />
<line x1="670.66" y1="569.38" x2="670.91" y2="659.29" stroke="#222" stroke-width="0.7" />
<line x1="671.7" y1="569.99" x2="671.96" y2="659.89" stroke="#999" stroke-width="0.7" />
<line x1="672.53" y1="570.48" x2="672.79" y2="660.37" stroke="#000" stroke-width="1.13" />
<line x1="673.78" y1="571.21" x2="674.04" y2="661.1" stroke="#fff" stroke-width="0.85" />
<line x1="674.82" y1="571.82" x2="675.08" y2="661.7" stroke="#222" stroke-width="0.7" />
<line x1="675.86" y1="572.43" x2="676.13" y2="662.3" stroke="#999" stroke-width="0.7" />
<line x1="676.69" y1="572.92" x2="676.96" y2="662.78" stroke="#000" stroke-width="1.13" />
<line x1="677.93" y1="573.65" x2="678.21" y2="663.51" stroke="#fff" stroke-width="0.85" />
<line x1="678.97" y1="574.26" x2="679.25" y2="664.11" stroke="#222" stroke-width="0.7" />
<line x1="680.01" y1="574.87" x2="680.3" y2="664.71" stroke="#999" stroke-width="0.7" />
<line x1="680.84" y1="575.36" x2="681.13" y2="665.19" stroke="#000" stroke-width="1.13" />
<line x1="682.09" y1="576.09" x2="682.38" y2="665.91" stroke="#fff" stroke-width="0.85" />
<line x1="683.13" y1="576.7" x2="683.42" y2="666.52" stroke="#222" stroke-width="0.7" />
<line x1="684.17" y1="577.31" x2="684.47" y2="667.12" stroke="#999" stroke-width="0.7" />
<line x1="685" y1="577.4" x2="685.3" y2="667.8" stroke="#000" stroke-width="1.356" />
<path d="M592.6 514.2 L687.6 569.4 L741.2 535.6 L646.5 482.6 Z" stroke="#000" stroke-width="0.6" fill="#000" />
<line x1="594.98" y1="514.93" x2="647.67" y2="483.89" stroke="#fff" stroke-width="1.5" />
<line x1="597.49" y1="516.18" x2="649.78" y2="485.28" stroke="#aaa" stroke-width="0.5" />
<line x1="599.11" y1="517.33" x2="651.79" y2="486.2" stroke="#fff" stroke-width="1.5" />
<line x1="601.62" y1="518.58" x2="653.89" y2="487.59" stroke="#aaa" stroke-width="0.5" />
<line x1="603.24" y1="519.73" x2="655.91" y2="488.5" stroke="#fff" stroke-width="1.5" />
<line x1="605.75" y1="520.98" x2="658.01" y2="489.89" stroke="#aaa" stroke-width="0.5" />
<line x1="607.37" y1="522.13" x2="660.02" y2="490.8" stroke="#fff" stroke-width="1.5" />
<line x1="609.88" y1="523.38" x2="662.13" y2="492.19" stroke="#aaa" stroke-width="0.5" />
<line x1="611.5" y1="524.53" x2="664.14" y2="493.11" stroke="#fff" stroke-width="1.5" />
<line x1="614.01" y1="525.78" x2="666.25" y2="494.5" stroke="#aaa" stroke-width="0.5" />
<line x1="615.63" y1="526.93" x2="668.26" y2="495.41" stroke="#fff" stroke-width="1.5" />
<line x1="618.14" y1="528.18" x2="670.36" y2="496.8" stroke="#aaa" stroke-width="0.5" />
<line x1="619.76" y1="529.33" x2="672.37" y2="497.72" stroke="#fff" stroke-width="1.5" />
<line x1="622.27" y1="530.58" x2="674.48" y2="499.11" stroke="#aaa" stroke-width="0.5" />
<line x1="623.89" y1="531.73" x2="676.49" y2="500.02" stroke="#fff" stroke-width="1.5" />
<line x1="626.4" y1="532.98" x2="678.6" y2="501.41" stroke="#aaa" stroke-width="0.5" />
<line x1="628.02" y1="534.13" x2="680.61" y2="502.33" stroke="#fff" stroke-width="1.5" />
<line x1="630.53" y1="535.38" x2="682.72" y2="503.72" stroke="#aaa" stroke-width="0.5" />
<line x1="632.15" y1="536.53" x2="684.73" y2="504.63" stroke="#fff" stroke-width="1.5" />
<line x1="634.66" y1="537.78" x2="686.83" y2="506.02" stroke="#aaa" stroke-width="0.5" />
<line x1="636.28" y1="538.93" x2="688.84" y2="506.93" stroke="#fff" stroke-width="1.5" />
<line x1="638.79" y1="540.18" x2="690.95" y2="508.32" stroke="#aaa" stroke-width="0.5" />
<line x1="640.41" y1="541.33" x2="692.96" y2="509.24" stroke="#fff" stroke-width="1.5" />
<line x1="642.92" y1="542.58" x2="695.07" y2="510.63" stroke="#aaa" stroke-width="0.5" />
<line x1="644.54" y1="543.73" x2="697.08" y2="511.54" stroke="#fff" stroke-width="1.5" />
<line x1="647.05" y1="544.98" x2="699.18" y2="512.93" stroke="#aaa" stroke-width="0.5" />
<line x1="648.67" y1="546.13" x2="701.2" y2="513.85" stroke="#fff" stroke-width="1.5" />
<line x1="651.18" y1="547.38" x2="703.3" y2="515.24" stroke="#aaa" stroke-width="0.5" />
<line x1="652.8" y1="548.53" x2="705.31" y2="516.15" stroke="#fff" stroke-width="1.5" />
<line x1="655.32" y1="549.78" x2="707.42" y2="517.54" stroke="#aaa" stroke-width="0.5" />
<line x1="656.93" y1="550.93" x2="709.43" y2="518.46" stroke="#fff" stroke-width="1.5" />
<line x1="659.45" y1="552.18" x2="711.54" y2="519.85" stroke="#aaa" stroke-width="0.5" />
<line x1="661.06" y1="553.33" x2="713.55" y2="520.76" stroke="#fff" stroke-width="1.5" />
<line x1="663.58" y1="554.58" x2="715.65" y2="522.15" stroke="#aaa" stroke-width="0.5" />
<line x1="665.19" y1="555.73" x2="717.67" y2="523.06" stroke="#fff" stroke-width="1.5" />
<line x1="667.71" y1="556.98" x2="719.77" y2="524.46" stroke="#aaa" stroke-width="0.5" />
<line x1="669.32" y1="558.13" x2="721.78" y2="525.37" stroke="#fff" stroke-width="1.5" />
<line x1="671.84" y1="559.38" x2="723.89" y2="526.76" stroke="#aaa" stroke-width="0.5" />
<line x1="673.45" y1="560.53" x2="725.9" y2="527.67" stroke="#fff" stroke-width="1.5" />
<line x1="675.97" y1="561.78" x2="728.01" y2="529.06" stroke="#aaa" stroke-width="0.5" />
<line x1="677.58" y1="562.93" x2="730.02" y2="529.98" stroke="#fff" stroke-width="1.5" />
<line x1="680.1" y1="564.18" x2="732.12" y2="531.37" stroke="#aaa" stroke-width="0.5" />
<line x1="681.72" y1="565.33" x2="734.14" y2="532.28" stroke="#fff" stroke-width="1.5" />
<line x1="684.23" y1="566.58" x2="736.24" y2="533.67" stroke="#aaa" stroke-width="0.5" />
<line x1="685.85" y1="567.73" x2="738.25" y2="534.59" stroke="#fff" stroke-width="1.5" />
<line x1="688.36" y1="568.98" x2="740.36" y2="535.98" stroke="#aaa" stroke-width="0.5" />
<path d="M589.4 521.3 L685 577.4 L687.6 569.4 L592.6 514.2 Z" stroke="#000" stroke-width="0.5" fill="#222" />
<path d="M590.65 523.03 Q590.85 516.73 595.38 514.63" stroke="#fff" stroke-width="0.95" fill="none" />
<path d="M594.8 525.47 Q595 519.13 599.51 517.03" stroke="#fff" stroke-width="0.95" fill="none" />
<path d="M598.96 527.91 Q599.16 521.53 603.64 519.43" stroke="#fff" stroke-width="0.95" fill="none" />
<path d="M603.12 530.35 Q603.32 523.93 607.77 521.83" stroke="#fff" stroke-width="0.95" fill="none" />
<path d="M607.27 532.79 Q607.47 526.33 611.9 524.23" stroke="#fff" stroke-width="0.95" fill="none" />
<path d="M611.43 535.23 Q611.63 528.73 616.03 526.63" stroke="#fff" stroke-width="0.95" fill="none" />
<path d="M615.59 537.67 Q615.79 531.13 620.16 529.03" stroke="#fff" stroke-width="0.95" fill="none" />
<path d="M619.74 540.11 Q619.94 533.53 624.29 531.43" stroke="#fff" stroke-width="0.95" fill="none" />
<path d="M623.9 542.54 Q624.1 535.93 628.42 533.83" stroke="#fff" stroke-width="0.95" fill="none" />
<path d="M628.06 544.98 Q628.26 538.33 632.55 536.23" stroke="#fff" stroke-width="0.95" fill="none" />
<path d="M632.21 547.42 Q632.41 540.73 636.68 538.63" stroke="#fff" stroke-width="0.95" fill="none" />
<path d="M636.37 549.86 Q636.57 543.13 640.81 541.03" stroke="#fff" stroke-width="0.95" fill="none" />
<path d="M640.53 552.3 Q640.73 545.53 644.94 543.43" stroke="#fff" stroke-width="0.95" fill="none" />
<path d="M644.68 554.74 Q644.88 547.93 649.07 545.83" stroke="#fff" stroke-width="0.95" fill="none" />
<path d="M648.84 557.18 Q649.04 550.33 653.2 548.23" stroke="#fff" stroke-width="0.95" fill="none" />
<path d="M652.99 559.62 Q653.19 552.73 657.33 550.63" stroke="#fff" stroke-width="0.95" fill="none" />
<path d="M657.15 562.06 Q657.35 555.13 661.46 553.03" stroke="#fff" stroke-width="0.95" fill="none" />
<path d="M661.31 564.5 Q661.51 557.53 665.59 555.43" stroke="#fff" stroke-width="0.95" fill="none" />
<path d="M665.46 566.94 Q665.66 559.93 669.72 557.83" stroke="#fff" stroke-width="0.95" fill="none" />
<path d="M669.62 569.38 Q669.82 562.33 673.85 560.23" stroke="#fff" stroke-width="0.95" fill="none" />
<path d="M673.78 571.81 Q673.98 564.73 677.98 562.63" stroke="#fff" stroke-width="0.95" fill="none" />
<path d="M677.93 574.25 Q678.13 567.13 682.12 565.03" stroke="#fff" stroke-width="0.95" fill="none" />
<path d="M682.09 576.69 Q682.29 569.53 686.25 567.43" stroke="#fff" stroke-width="0.95" fill="none" />
<path d="M607 479.4 L743 558.2 L747.6 579 L737.6 568 L737.6 561.4 L598.6 484.8 Z" stroke="#fff" stroke-width="0.1" fill="#fff" />
<path d="M607 479.4 L743 558.2" stroke="#000" stroke-width="1.243" fill="none" />
<path d="M602.38 482.37 L740.03 559.96" stroke="#000" stroke-width="1.5" fill="none" />
<path d="M598.6 484.8 L737.6 561.4" stroke="#000" stroke-width="1.469" fill="none" />
<path d="M595.5 485.6 Q598.5 481.8 603 480 Q605 479.3 607 479.4" stroke="#000" stroke-width="1.356" fill="none" />
<path d="M597.2 486.6 Q600 483.4 603.8 481.6" stroke="#000" stroke-width="1.017" fill="none" />
<path d="M743 558.2 Q754.6 564.5 755.4 577 L755.9 655 Q755.6 660.5 752.5 663.4" stroke="#000" stroke-width="1.356" fill="none" />
<path d="M740.8 560.1 Q751 566 751.6 578.5 L751.6 658 Q751.4 663 749.3 665.6" stroke="#000" stroke-width="1.356" fill="none" />
<path d="M737.6 562.4 Q746.4 568 747.0 580.5 L746.8 660 Q746.8 664.5 745.4 666.4" stroke="#000" stroke-width="1.356" fill="none" />
<path d="M567.8 590 L567.8 514" stroke="#000" stroke-width="1.017" fill="none" />
<path d="M577 504.4 L602.8 486.9" stroke="#000" stroke-width="1.13" fill="none" />
<path d="M612.5 481 L628.2 473.2" stroke="#000" stroke-width="1.13" fill="none" />
<path d="M628.2 473.2 L646.5 482.6" stroke="#000" stroke-width="1.017" fill="none" />
<path d="M632.2 472.4 L646 480.2" stroke="#000" stroke-width="1.13" fill="none" />
<path d="M567.8 514 Q568.4 511.2 572.6 511.2" stroke="#000" stroke-width="1.017" fill="none" />
<path d="M572.6 511.2 Q572.6 506.4 577 504.4" stroke="#000" stroke-width="1.017" fill="none" />
<path d="M572.6 511.2 L589.4 521.3" stroke="#000" stroke-width="1.13" fill="none" />
<path d="M577 504.4 L592.6 514.2" stroke="#000" stroke-width="1.13" fill="none" />
<path d="M685.4 577.6 L703.6 586.9" stroke="#000" stroke-width="1.13" fill="none" />
<path d="M687.6 569.4 L708.3 580" stroke="#000" stroke-width="1.13" fill="none" />
<path d="M687.6 569.4 L737 539" stroke="#000" stroke-width="1.017" fill="none" />
<path d="M703.6 586.9 Q707.6 589.5 708.3 597.2" stroke="#000" stroke-width="1.13" fill="none" />
<path d="M708.3 580 Q716.5 584 717.6 595" stroke="#000" stroke-width="1.13" fill="none" />
<path d="M703.6 586.9 Q704.6 582.2 708.3 580" stroke="#000" stroke-width="1.13" fill="none" />
<path d="M708.3 597.2 Q713 599 717.6 595" stroke="#000" stroke-width="1.13" fill="none" />
<line x1="708.2" y1="597.2" x2="707.8" y2="675.4" stroke="#000" stroke-width="1.13" />
<line x1="717.6" y1="595" x2="717.5" y2="675" stroke="#000" stroke-width="1.13" />
<path d="M703.9 678.4 Q706.8 677.6 707.8 675.2 Q712.6 673.8 717.5 675.2 Q718.2 677 717.6 678.8" stroke="#000" stroke-width="1.017" fill="none" />
<path d="M708.3 580 L738.9 562.1" stroke="#000" stroke-width="1.13" fill="none" />
<path d="M745.7 558.2 L763.2 548.6" stroke="#000" stroke-width="1.13" fill="none" />
<path d="M717.6 595 L747.6 579.1" stroke="#000" stroke-width="1.13" fill="none" />
<path d="M755.4 575.2 L771.9 566" stroke="#000" stroke-width="1.13" fill="none" />
<path d="M741.6 536.6 L762.4 549.3 Q770 553.5 771.0 563.5 L771.9 640 Q771.9 643.6 771.4 645" stroke="#000" stroke-width="0.904" fill="none" />
<path d="M717.5 674.9 L746.6 660.6" stroke="#000" stroke-width="1.13" fill="none" />
<path d="M755.9 655.3 L771.4 645" stroke="#000" stroke-width="1.13" fill="none" />
<path d="M577 604.8 L589.4 612" stroke="#000" stroke-width="1.017" fill="none" />
<path d="M685.3 666.6 L703.2 676.6" stroke="#000" stroke-width="1.017" fill="none" />
<path d="M567.8 589 Q568.4 599 577 604.8" stroke="#000" stroke-width="1.017" fill="none" />
</g>
</svg>
</body>
</html>
